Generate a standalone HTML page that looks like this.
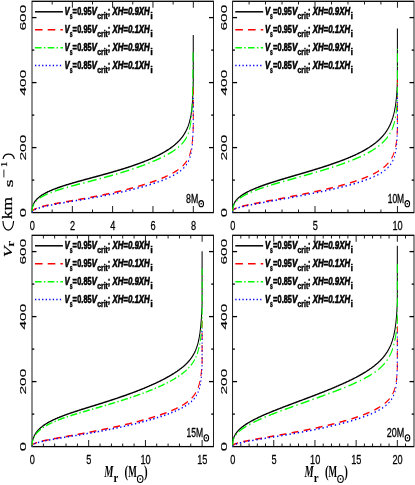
<!DOCTYPE html>
<html><head><meta charset="utf-8"><title>chart</title>
<style>
html,body{margin:0;padding:0;background:#fff;}
body{width:415px;height:485px;overflow:hidden;font-family:"Liberation Sans",sans-serif;}
svg{display:block;will-change:transform;}
text{fill:#000;}
</style></head>
<body>
<svg width="415" height="485" viewBox="0 0 415 485">
<defs><filter id="nf" x="0" y="0" width="415" height="485" filterUnits="userSpaceOnUse"><feOffset dx="0" dy="0"/></filter></defs>
<rect x="0" y="0" width="415" height="485" fill="#fff"/>
<g transform="scale(0.68,1)">
<rect x="47.06" y="1.30" width="266.91" height="211.30" fill="none" stroke="#000" stroke-width="1.3"/>
<line x1="76.71" y1="212.60" x2="76.71" y2="209.40" stroke="#000" stroke-width="1.3" />
<line x1="76.71" y1="1.30" x2="76.71" y2="4.50" stroke="#000" stroke-width="1.3" />
<line x1="106.35" y1="212.60" x2="106.35" y2="206.10" stroke="#000" stroke-width="1.3" />
<line x1="106.35" y1="1.30" x2="106.35" y2="7.80" stroke="#000" stroke-width="1.3" />
<line x1="136.00" y1="212.60" x2="136.00" y2="209.40" stroke="#000" stroke-width="1.3" />
<line x1="136.00" y1="1.30" x2="136.00" y2="4.50" stroke="#000" stroke-width="1.3" />
<line x1="165.65" y1="212.60" x2="165.65" y2="206.10" stroke="#000" stroke-width="1.3" />
<line x1="165.65" y1="1.30" x2="165.65" y2="7.80" stroke="#000" stroke-width="1.3" />
<line x1="195.29" y1="212.60" x2="195.29" y2="209.40" stroke="#000" stroke-width="1.3" />
<line x1="195.29" y1="1.30" x2="195.29" y2="4.50" stroke="#000" stroke-width="1.3" />
<line x1="224.94" y1="212.60" x2="224.94" y2="206.10" stroke="#000" stroke-width="1.3" />
<line x1="224.94" y1="1.30" x2="224.94" y2="7.80" stroke="#000" stroke-width="1.3" />
<line x1="254.59" y1="212.60" x2="254.59" y2="209.40" stroke="#000" stroke-width="1.3" />
<line x1="254.59" y1="1.30" x2="254.59" y2="4.50" stroke="#000" stroke-width="1.3" />
<line x1="284.24" y1="212.60" x2="284.24" y2="206.10" stroke="#000" stroke-width="1.3" />
<line x1="284.24" y1="1.30" x2="284.24" y2="7.80" stroke="#000" stroke-width="1.3" />
<line x1="47.06" y1="180.10" x2="50.44" y2="180.10" stroke="#000" stroke-width="1.3" />
<line x1="313.97" y1="180.10" x2="310.59" y2="180.10" stroke="#000" stroke-width="1.3" />
<line x1="47.06" y1="147.60" x2="53.68" y2="147.60" stroke="#000" stroke-width="1.3" />
<line x1="313.97" y1="147.60" x2="307.35" y2="147.60" stroke="#000" stroke-width="1.3" />
<line x1="47.06" y1="115.10" x2="50.44" y2="115.10" stroke="#000" stroke-width="1.3" />
<line x1="313.97" y1="115.10" x2="310.59" y2="115.10" stroke="#000" stroke-width="1.3" />
<line x1="47.06" y1="82.60" x2="53.68" y2="82.60" stroke="#000" stroke-width="1.3" />
<line x1="313.97" y1="82.60" x2="307.35" y2="82.60" stroke="#000" stroke-width="1.3" />
<line x1="47.06" y1="50.10" x2="50.44" y2="50.10" stroke="#000" stroke-width="1.3" />
<line x1="313.97" y1="50.10" x2="310.59" y2="50.10" stroke="#000" stroke-width="1.3" />
<line x1="47.06" y1="17.60" x2="53.68" y2="17.60" stroke="#000" stroke-width="1.3" />
<line x1="313.97" y1="17.60" x2="307.35" y2="17.60" stroke="#000" stroke-width="1.3" />
<rect x="342.06" y="1.30" width="266.76" height="211.30" fill="none" stroke="#000" stroke-width="1.3"/>
<line x1="366.29" y1="212.60" x2="366.29" y2="209.40" stroke="#000" stroke-width="1.3" />
<line x1="366.29" y1="1.30" x2="366.29" y2="4.50" stroke="#000" stroke-width="1.3" />
<line x1="390.53" y1="212.60" x2="390.53" y2="209.40" stroke="#000" stroke-width="1.3" />
<line x1="390.53" y1="1.30" x2="390.53" y2="4.50" stroke="#000" stroke-width="1.3" />
<line x1="414.76" y1="212.60" x2="414.76" y2="209.40" stroke="#000" stroke-width="1.3" />
<line x1="414.76" y1="1.30" x2="414.76" y2="4.50" stroke="#000" stroke-width="1.3" />
<line x1="439.00" y1="212.60" x2="439.00" y2="209.40" stroke="#000" stroke-width="1.3" />
<line x1="439.00" y1="1.30" x2="439.00" y2="4.50" stroke="#000" stroke-width="1.3" />
<line x1="463.24" y1="212.60" x2="463.24" y2="206.10" stroke="#000" stroke-width="1.3" />
<line x1="463.24" y1="1.30" x2="463.24" y2="7.80" stroke="#000" stroke-width="1.3" />
<line x1="487.47" y1="212.60" x2="487.47" y2="209.40" stroke="#000" stroke-width="1.3" />
<line x1="487.47" y1="1.30" x2="487.47" y2="4.50" stroke="#000" stroke-width="1.3" />
<line x1="511.71" y1="212.60" x2="511.71" y2="209.40" stroke="#000" stroke-width="1.3" />
<line x1="511.71" y1="1.30" x2="511.71" y2="4.50" stroke="#000" stroke-width="1.3" />
<line x1="535.94" y1="212.60" x2="535.94" y2="209.40" stroke="#000" stroke-width="1.3" />
<line x1="535.94" y1="1.30" x2="535.94" y2="4.50" stroke="#000" stroke-width="1.3" />
<line x1="560.18" y1="212.60" x2="560.18" y2="209.40" stroke="#000" stroke-width="1.3" />
<line x1="560.18" y1="1.30" x2="560.18" y2="4.50" stroke="#000" stroke-width="1.3" />
<line x1="584.41" y1="212.60" x2="584.41" y2="206.10" stroke="#000" stroke-width="1.3" />
<line x1="584.41" y1="1.30" x2="584.41" y2="7.80" stroke="#000" stroke-width="1.3" />
<line x1="342.06" y1="180.10" x2="345.44" y2="180.10" stroke="#000" stroke-width="1.3" />
<line x1="608.82" y1="180.10" x2="605.44" y2="180.10" stroke="#000" stroke-width="1.3" />
<line x1="342.06" y1="147.60" x2="348.68" y2="147.60" stroke="#000" stroke-width="1.3" />
<line x1="608.82" y1="147.60" x2="602.21" y2="147.60" stroke="#000" stroke-width="1.3" />
<line x1="342.06" y1="115.10" x2="345.44" y2="115.10" stroke="#000" stroke-width="1.3" />
<line x1="608.82" y1="115.10" x2="605.44" y2="115.10" stroke="#000" stroke-width="1.3" />
<line x1="342.06" y1="82.60" x2="348.68" y2="82.60" stroke="#000" stroke-width="1.3" />
<line x1="608.82" y1="82.60" x2="602.21" y2="82.60" stroke="#000" stroke-width="1.3" />
<line x1="342.06" y1="50.10" x2="345.44" y2="50.10" stroke="#000" stroke-width="1.3" />
<line x1="608.82" y1="50.10" x2="605.44" y2="50.10" stroke="#000" stroke-width="1.3" />
<line x1="342.06" y1="17.60" x2="348.68" y2="17.60" stroke="#000" stroke-width="1.3" />
<line x1="608.82" y1="17.60" x2="602.21" y2="17.60" stroke="#000" stroke-width="1.3" />
<rect x="47.06" y="235.30" width="266.91" height="211.30" fill="none" stroke="#000" stroke-width="1.3"/>
<line x1="63.74" y1="446.60" x2="63.74" y2="443.40" stroke="#000" stroke-width="1.3" />
<line x1="63.74" y1="235.30" x2="63.74" y2="238.50" stroke="#000" stroke-width="1.3" />
<line x1="80.41" y1="446.60" x2="80.41" y2="443.40" stroke="#000" stroke-width="1.3" />
<line x1="80.41" y1="235.30" x2="80.41" y2="238.50" stroke="#000" stroke-width="1.3" />
<line x1="97.09" y1="446.60" x2="97.09" y2="443.40" stroke="#000" stroke-width="1.3" />
<line x1="97.09" y1="235.30" x2="97.09" y2="238.50" stroke="#000" stroke-width="1.3" />
<line x1="113.76" y1="446.60" x2="113.76" y2="443.40" stroke="#000" stroke-width="1.3" />
<line x1="113.76" y1="235.30" x2="113.76" y2="238.50" stroke="#000" stroke-width="1.3" />
<line x1="130.44" y1="446.60" x2="130.44" y2="440.10" stroke="#000" stroke-width="1.3" />
<line x1="130.44" y1="235.30" x2="130.44" y2="241.80" stroke="#000" stroke-width="1.3" />
<line x1="147.12" y1="446.60" x2="147.12" y2="443.40" stroke="#000" stroke-width="1.3" />
<line x1="147.12" y1="235.30" x2="147.12" y2="238.50" stroke="#000" stroke-width="1.3" />
<line x1="163.79" y1="446.60" x2="163.79" y2="443.40" stroke="#000" stroke-width="1.3" />
<line x1="163.79" y1="235.30" x2="163.79" y2="238.50" stroke="#000" stroke-width="1.3" />
<line x1="180.47" y1="446.60" x2="180.47" y2="443.40" stroke="#000" stroke-width="1.3" />
<line x1="180.47" y1="235.30" x2="180.47" y2="238.50" stroke="#000" stroke-width="1.3" />
<line x1="197.15" y1="446.60" x2="197.15" y2="443.40" stroke="#000" stroke-width="1.3" />
<line x1="197.15" y1="235.30" x2="197.15" y2="238.50" stroke="#000" stroke-width="1.3" />
<line x1="213.82" y1="446.60" x2="213.82" y2="440.10" stroke="#000" stroke-width="1.3" />
<line x1="213.82" y1="235.30" x2="213.82" y2="241.80" stroke="#000" stroke-width="1.3" />
<line x1="230.50" y1="446.60" x2="230.50" y2="443.40" stroke="#000" stroke-width="1.3" />
<line x1="230.50" y1="235.30" x2="230.50" y2="238.50" stroke="#000" stroke-width="1.3" />
<line x1="247.18" y1="446.60" x2="247.18" y2="443.40" stroke="#000" stroke-width="1.3" />
<line x1="247.18" y1="235.30" x2="247.18" y2="238.50" stroke="#000" stroke-width="1.3" />
<line x1="263.85" y1="446.60" x2="263.85" y2="443.40" stroke="#000" stroke-width="1.3" />
<line x1="263.85" y1="235.30" x2="263.85" y2="238.50" stroke="#000" stroke-width="1.3" />
<line x1="280.53" y1="446.60" x2="280.53" y2="443.40" stroke="#000" stroke-width="1.3" />
<line x1="280.53" y1="235.30" x2="280.53" y2="238.50" stroke="#000" stroke-width="1.3" />
<line x1="297.21" y1="446.60" x2="297.21" y2="440.10" stroke="#000" stroke-width="1.3" />
<line x1="297.21" y1="235.30" x2="297.21" y2="241.80" stroke="#000" stroke-width="1.3" />
<line x1="47.06" y1="414.10" x2="50.44" y2="414.10" stroke="#000" stroke-width="1.3" />
<line x1="313.97" y1="414.10" x2="310.59" y2="414.10" stroke="#000" stroke-width="1.3" />
<line x1="47.06" y1="381.60" x2="53.68" y2="381.60" stroke="#000" stroke-width="1.3" />
<line x1="313.97" y1="381.60" x2="307.35" y2="381.60" stroke="#000" stroke-width="1.3" />
<line x1="47.06" y1="349.10" x2="50.44" y2="349.10" stroke="#000" stroke-width="1.3" />
<line x1="313.97" y1="349.10" x2="310.59" y2="349.10" stroke="#000" stroke-width="1.3" />
<line x1="47.06" y1="316.60" x2="53.68" y2="316.60" stroke="#000" stroke-width="1.3" />
<line x1="313.97" y1="316.60" x2="307.35" y2="316.60" stroke="#000" stroke-width="1.3" />
<line x1="47.06" y1="284.10" x2="50.44" y2="284.10" stroke="#000" stroke-width="1.3" />
<line x1="313.97" y1="284.10" x2="310.59" y2="284.10" stroke="#000" stroke-width="1.3" />
<line x1="47.06" y1="251.60" x2="53.68" y2="251.60" stroke="#000" stroke-width="1.3" />
<line x1="313.97" y1="251.60" x2="307.35" y2="251.60" stroke="#000" stroke-width="1.3" />
<rect x="342.06" y="235.30" width="266.76" height="211.30" fill="none" stroke="#000" stroke-width="1.3"/>
<line x1="354.17" y1="446.60" x2="354.17" y2="443.40" stroke="#000" stroke-width="1.3" />
<line x1="354.17" y1="235.30" x2="354.17" y2="238.50" stroke="#000" stroke-width="1.3" />
<line x1="366.28" y1="446.60" x2="366.28" y2="443.40" stroke="#000" stroke-width="1.3" />
<line x1="366.28" y1="235.30" x2="366.28" y2="238.50" stroke="#000" stroke-width="1.3" />
<line x1="378.39" y1="446.60" x2="378.39" y2="443.40" stroke="#000" stroke-width="1.3" />
<line x1="378.39" y1="235.30" x2="378.39" y2="238.50" stroke="#000" stroke-width="1.3" />
<line x1="390.50" y1="446.60" x2="390.50" y2="443.40" stroke="#000" stroke-width="1.3" />
<line x1="390.50" y1="235.30" x2="390.50" y2="238.50" stroke="#000" stroke-width="1.3" />
<line x1="402.61" y1="446.60" x2="402.61" y2="440.10" stroke="#000" stroke-width="1.3" />
<line x1="402.61" y1="235.30" x2="402.61" y2="241.80" stroke="#000" stroke-width="1.3" />
<line x1="414.72" y1="446.60" x2="414.72" y2="443.40" stroke="#000" stroke-width="1.3" />
<line x1="414.72" y1="235.30" x2="414.72" y2="238.50" stroke="#000" stroke-width="1.3" />
<line x1="426.83" y1="446.60" x2="426.83" y2="443.40" stroke="#000" stroke-width="1.3" />
<line x1="426.83" y1="235.30" x2="426.83" y2="238.50" stroke="#000" stroke-width="1.3" />
<line x1="438.94" y1="446.60" x2="438.94" y2="443.40" stroke="#000" stroke-width="1.3" />
<line x1="438.94" y1="235.30" x2="438.94" y2="238.50" stroke="#000" stroke-width="1.3" />
<line x1="451.05" y1="446.60" x2="451.05" y2="443.40" stroke="#000" stroke-width="1.3" />
<line x1="451.05" y1="235.30" x2="451.05" y2="238.50" stroke="#000" stroke-width="1.3" />
<line x1="463.16" y1="446.60" x2="463.16" y2="440.10" stroke="#000" stroke-width="1.3" />
<line x1="463.16" y1="235.30" x2="463.16" y2="241.80" stroke="#000" stroke-width="1.3" />
<line x1="475.27" y1="446.60" x2="475.27" y2="443.40" stroke="#000" stroke-width="1.3" />
<line x1="475.27" y1="235.30" x2="475.27" y2="238.50" stroke="#000" stroke-width="1.3" />
<line x1="487.38" y1="446.60" x2="487.38" y2="443.40" stroke="#000" stroke-width="1.3" />
<line x1="487.38" y1="235.30" x2="487.38" y2="238.50" stroke="#000" stroke-width="1.3" />
<line x1="499.49" y1="446.60" x2="499.49" y2="443.40" stroke="#000" stroke-width="1.3" />
<line x1="499.49" y1="235.30" x2="499.49" y2="238.50" stroke="#000" stroke-width="1.3" />
<line x1="511.60" y1="446.60" x2="511.60" y2="443.40" stroke="#000" stroke-width="1.3" />
<line x1="511.60" y1="235.30" x2="511.60" y2="238.50" stroke="#000" stroke-width="1.3" />
<line x1="523.71" y1="446.60" x2="523.71" y2="440.10" stroke="#000" stroke-width="1.3" />
<line x1="523.71" y1="235.30" x2="523.71" y2="241.80" stroke="#000" stroke-width="1.3" />
<line x1="535.82" y1="446.60" x2="535.82" y2="443.40" stroke="#000" stroke-width="1.3" />
<line x1="535.82" y1="235.30" x2="535.82" y2="238.50" stroke="#000" stroke-width="1.3" />
<line x1="547.93" y1="446.60" x2="547.93" y2="443.40" stroke="#000" stroke-width="1.3" />
<line x1="547.93" y1="235.30" x2="547.93" y2="238.50" stroke="#000" stroke-width="1.3" />
<line x1="560.04" y1="446.60" x2="560.04" y2="443.40" stroke="#000" stroke-width="1.3" />
<line x1="560.04" y1="235.30" x2="560.04" y2="238.50" stroke="#000" stroke-width="1.3" />
<line x1="572.15" y1="446.60" x2="572.15" y2="443.40" stroke="#000" stroke-width="1.3" />
<line x1="572.15" y1="235.30" x2="572.15" y2="238.50" stroke="#000" stroke-width="1.3" />
<line x1="584.26" y1="446.60" x2="584.26" y2="440.10" stroke="#000" stroke-width="1.3" />
<line x1="584.26" y1="235.30" x2="584.26" y2="241.80" stroke="#000" stroke-width="1.3" />
<line x1="596.37" y1="446.60" x2="596.37" y2="443.40" stroke="#000" stroke-width="1.3" />
<line x1="596.37" y1="235.30" x2="596.37" y2="238.50" stroke="#000" stroke-width="1.3" />
<line x1="342.06" y1="414.10" x2="345.44" y2="414.10" stroke="#000" stroke-width="1.3" />
<line x1="608.82" y1="414.10" x2="605.44" y2="414.10" stroke="#000" stroke-width="1.3" />
<line x1="342.06" y1="381.60" x2="348.68" y2="381.60" stroke="#000" stroke-width="1.3" />
<line x1="608.82" y1="381.60" x2="602.21" y2="381.60" stroke="#000" stroke-width="1.3" />
<line x1="342.06" y1="349.10" x2="345.44" y2="349.10" stroke="#000" stroke-width="1.3" />
<line x1="608.82" y1="349.10" x2="605.44" y2="349.10" stroke="#000" stroke-width="1.3" />
<line x1="342.06" y1="316.60" x2="348.68" y2="316.60" stroke="#000" stroke-width="1.3" />
<line x1="608.82" y1="316.60" x2="602.21" y2="316.60" stroke="#000" stroke-width="1.3" />
<line x1="342.06" y1="284.10" x2="345.44" y2="284.10" stroke="#000" stroke-width="1.3" />
<line x1="608.82" y1="284.10" x2="605.44" y2="284.10" stroke="#000" stroke-width="1.3" />
<line x1="342.06" y1="251.60" x2="348.68" y2="251.60" stroke="#000" stroke-width="1.3" />
<line x1="608.82" y1="251.60" x2="602.21" y2="251.60" stroke="#000" stroke-width="1.3" />
<path d="M47.1,212.6 L47.1,212.1 L47.2,211.6 L47.2,211.1 L47.3,210.6 L47.3,210.1 L47.4,209.6 L47.4,209.1 L47.5,208.6 L47.5,208.1 L47.6,207.6 L47.8,207.1 L47.9,206.6 L48.1,206.1 L48.3,205.7 L48.6,205.2 L48.8,204.7 L49.1,204.3 L49.4,203.8 L49.7,203.4 L50.1,202.9 L50.4,202.5 L50.8,202.1 L51.2,201.6 L51.6,201.2 L52.1,200.8 L52.5,200.4 L53.0,200.1 L53.5,199.7 L54.0,199.3 L54.5,198.9 L55.0,198.6 L55.6,198.3 L56.1,197.9 L56.7,197.6 L57.3,197.3 L57.8,197.0 L58.4,196.7 L59.0,196.4 L59.6,196.1 L60.2,195.8 L60.8,195.5 L61.4,195.2 L62.0,194.9 L62.7,194.7 L63.3,194.4 L63.9,194.2 L64.6,193.9 L65.2,193.7 L65.8,193.4 L66.5,193.2 L67.1,192.9 L67.8,192.7 L68.5,192.5 L69.1,192.3 L69.8,192.0 L70.4,191.8 L71.1,191.6 L71.8,191.4 L72.4,191.2 L73.1,191.0 L73.8,190.8 L74.5,190.6 L75.1,190.4 L75.8,190.2 L76.5,190.0 L77.2,189.8 L77.9,189.6 L78.5,189.4 L79.2,189.2 L79.9,189.1 L80.6,188.9 L81.3,188.7 L82.0,188.5 L82.7,188.4 L83.4,188.2 L84.0,188.0 L84.7,187.8 L85.4,187.7 L86.1,187.5 L86.8,187.3 L87.5,187.2 L88.2,187.0 L88.9,186.8 L89.6,186.7 L90.3,186.5 L91.0,186.4 L91.7,186.2 L92.4,186.1 L93.1,185.9 L93.8,185.7 L94.5,185.6 L95.2,185.4 L95.9,185.3 L96.6,185.1 L97.3,185.0 L98.0,184.8 L98.7,184.7 L99.4,184.6 L100.1,184.4 L100.8,184.3 L101.5,184.1 L102.2,184.0 L103.0,183.8 L103.7,183.7 L104.4,183.5 L105.1,183.4 L105.8,183.3 L106.5,183.1 L107.2,183.0 L107.9,182.8 L108.6,182.7 L109.3,182.6 L110.0,182.4 L110.7,182.3 L111.4,182.2 L112.1,182.0 L112.9,181.9 L113.6,181.7 L114.3,181.6 L115.0,181.5 L115.7,181.3 L116.4,181.2 L117.1,181.1 L117.8,180.9 L118.5,180.8 L119.2,180.7 L119.9,180.5 L120.7,180.4 L121.4,180.3 L122.1,180.1 L122.8,180.0 L123.5,179.9 L124.2,179.7 L124.9,179.6 L125.6,179.5 L126.3,179.3 L127.1,179.2 L127.8,179.1 L128.5,178.9 L129.2,178.8 L129.9,178.7 L130.6,178.6 L131.3,178.4 L132.0,178.3 L132.7,178.2 L133.4,178.0 L134.2,177.9 L134.9,177.8 L135.6,177.6 L136.3,177.5 L137.0,177.4 L137.7,177.2 L138.4,177.1 L139.1,177.0 L139.8,176.9 L140.6,176.7 L141.3,176.6 L142.0,176.5 L142.7,176.3 L143.4,176.2 L144.1,176.1 L144.8,175.9 L145.5,175.8 L146.2,175.7 L146.9,175.5 L147.7,175.4 L148.4,175.3 L149.1,175.1 L149.8,175.0 L150.5,174.9 L151.2,174.7 L151.9,174.6 L152.6,174.5 L153.3,174.3 L154.0,174.2 L154.8,174.1 L155.5,173.9 L156.2,173.8 L156.9,173.7 L157.6,173.5 L158.3,173.4 L159.0,173.3 L159.7,173.1 L160.4,173.0 L161.1,172.9 L161.8,172.7 L162.6,172.6 L163.3,172.4 L164.0,172.3 L164.7,172.2 L165.4,172.0 L166.1,171.9 L166.8,171.7 L167.5,171.6 L168.2,171.5 L168.9,171.3 L169.6,171.2 L170.3,171.0 L171.0,170.9 L171.7,170.8 L172.4,170.6 L173.2,170.5 L173.9,170.3 L174.6,170.2 L175.3,170.0 L176.0,169.9 L176.7,169.8 L177.4,169.6 L178.1,169.5 L178.8,169.3 L179.5,169.2 L180.2,169.0 L180.9,168.9 L181.6,168.7 L182.3,168.6 L183.0,168.4 L183.7,168.3 L184.4,168.1 L185.1,168.0 L185.8,167.8 L186.5,167.7 L187.2,167.5 L187.9,167.4 L188.6,167.2 L189.3,167.0 L190.0,166.9 L190.7,166.7 L191.4,166.6 L192.1,166.4 L192.8,166.3 L193.5,166.1 L194.2,165.9 L194.9,165.8 L195.6,165.6 L196.3,165.5 L197.0,165.3 L197.7,165.1 L198.4,165.0 L199.1,164.8 L199.8,164.6 L200.5,164.5 L201.2,164.3 L201.9,164.1 L202.6,164.0 L203.2,163.8 L203.9,163.6 L204.6,163.4 L205.3,163.3 L206.0,163.1 L206.7,162.9 L207.4,162.7 L208.1,162.6 L208.8,162.4 L209.5,162.2 L210.1,162.0 L210.8,161.9 L211.5,161.7 L212.2,161.5 L212.9,161.3 L213.6,161.1 L214.3,160.9 L214.9,160.7 L215.6,160.6 L216.3,160.4 L217.0,160.2 L217.7,160.0 L218.3,159.8 L219.0,159.6 L219.7,159.4 L220.4,159.2 L221.1,159.0 L221.7,158.8 L222.4,158.6 L223.1,158.4 L223.8,158.2 L224.4,158.0 L225.1,157.8 L225.8,157.6 L226.4,157.4 L227.1,157.2 L227.8,157.0 L228.4,156.7 L229.1,156.5 L229.8,156.3 L230.4,156.1 L231.1,155.9 L231.7,155.6 L232.4,155.4 L233.1,155.2 L233.7,155.0 L234.4,154.7 L235.0,154.5 L235.7,154.3 L236.3,154.0 L237.0,153.8 L237.6,153.6 L238.3,153.3 L238.9,153.1 L239.6,152.8 L240.2,152.6 L240.8,152.3 L241.5,152.1 L242.1,151.8 L242.7,151.6 L243.4,151.3 L244.0,151.1 L244.6,150.8 L245.3,150.5 L245.9,150.3 L246.5,150.0 L247.1,149.7 L247.7,149.5 L248.4,149.2 L249.0,148.9 L249.6,148.6 L250.2,148.3 L250.8,148.0 L251.4,147.8 L252.0,147.5 L252.6,147.2 L253.2,146.9 L253.7,146.6 L254.3,146.3 L254.9,145.9 L255.5,145.6 L256.1,145.3 L256.6,145.0 L257.2,144.7 L257.7,144.4 L258.3,144.0 L258.8,143.7 L259.4,143.4 L259.9,143.0 L260.5,142.7 L261.0,142.3 L261.5,142.0 L262.1,141.6 L262.6,141.3 L263.1,140.9 L263.6,140.5 L264.1,140.2 L264.6,139.8 L265.1,139.4 L265.5,139.0 L266.0,138.7 L266.5,138.3 L266.9,137.9 L267.4,137.5 L267.9,137.1 L268.3,136.7 L268.7,136.3 L269.2,135.9 L269.6,135.5 L270.0,135.1 L270.4,134.6 L270.8,134.2 L271.2,133.8 L271.6,133.4 L271.9,132.9 L272.3,132.5 L272.7,132.1 L273.0,131.6 L273.4,131.2 L273.7,130.7 L274.0,130.3 L274.3,129.8 L274.7,129.4 L275.0,128.9 L275.3,128.5 L275.5,128.0 L275.8,127.5 L276.1,127.1 L276.4,126.6 L276.6,126.1 L276.9,125.7 L277.1,125.2 L277.4,124.7 L277.6,124.3 L277.8,123.8 L278.0,123.3 L278.2,122.8 L278.5,122.3 L278.7,121.9 L278.8,121.4 L279.0,120.9 L279.2,120.4 L279.4,119.9 L279.6,119.4 L279.7,118.9 L279.9,118.5 L280.0,118.0 L280.2,117.5 L280.3,117.0 L280.5,116.5 L280.6,116.0 L280.7,115.5 L280.9,115.0 L281.0,114.5 L281.1,114.0 L281.2,113.5 L281.3,113.0 L281.4,112.5 L281.5,112.0 L281.6,111.5 L281.7,111.0 L281.8,110.6 L281.9,110.1 L282.0,109.6 L282.1,109.1 L282.2,108.6 L282.3,108.1 L282.3,107.6 L282.4,107.1 L282.5,106.6 L282.6,106.1 L282.6,105.6 L282.7,105.1 L282.7,104.6 L282.8,104.1 L282.9,103.6 L282.9,103.1 L283.0,102.6 L283.0,102.1 L283.1,101.6 L283.1,101.1 L283.2,100.6 L283.2,100.1 L283.3,99.6 L283.3,99.1 L283.3,98.6 L283.4,98.1 L283.4,97.6 L283.5,97.1 L283.5,96.6 L283.5,96.1 L283.6,95.6 L283.6,95.1 L283.6,94.6 L283.7,94.1 L283.7,93.6 L283.7,93.1 L283.7,92.6 L283.8,92.1 L283.8,91.6 L283.8,91.1 L283.8,90.6 L283.9,90.1 L283.9,89.6 L283.9,89.1 L283.9,88.6 L284.0,88.1 L284.0,87.6 L284.0,87.1 L284.0,86.6 L284.0,86.1 L284.0,85.6 L284.1,85.1 L284.1,84.6 L284.1,84.1 L284.1,83.6 L284.1,83.1 L284.1,82.6 L284.2,82.1 L284.2,81.6 L284.2,81.1 L284.2,80.6 L284.2,80.1 L284.2,79.6 L284.2,79.1 L284.2,78.6 L284.2,78.1 L284.2,77.6 L284.2,77.1 L284.2,76.6 L284.2,76.1 L284.2,75.6 L284.2,75.1 L284.2,74.6 L284.2,74.1 L284.2,73.6 L284.2,73.1 L284.2,72.6 L284.2,72.1 L284.2,71.6 L284.2,71.1 L284.2,70.6 L284.2,70.1 L284.2,69.6 L284.2,69.0 L284.2,68.5 L284.2,68.0 L284.2,67.5 L284.2,67.0 L284.2,66.5 L284.2,66.0 L284.2,65.5 L284.2,65.0 L284.2,64.5 L284.2,64.0 L284.2,63.5 L284.2,63.0 L284.2,62.5 L284.2,62.0 L284.2,61.5 L284.2,61.0 L284.2,60.5 L284.2,60.0 L284.2,59.5 L284.2,59.0 L284.2,58.5 L284.2,58.0 L284.2,57.5 L284.2,57.0 L284.2,56.5 L284.2,56.0 L284.2,55.5 L284.2,55.0 L284.2,54.5 L284.2,54.0 L284.2,53.5 L284.2,53.0 L284.2,52.5 L284.2,52.0 L284.2,51.5 L284.2,51.0 L284.2,50.5 L284.2,50.0 L284.2,49.5 L284.2,49.0 L284.2,48.5 L284.2,48.0 L284.2,47.5 L284.2,47.0 L284.2,46.5 L284.2,46.0 L284.2,45.5 L284.2,45.0 L284.2,44.5 L284.2,44.0 L284.2,43.5 L284.2,43.0 L284.2,42.5 L284.2,42.0 L284.2,41.5 L284.2,41.0 L284.2,40.5 L284.2,40.0 L284.2,39.5 L284.2,39.0 L284.2,38.5 L284.2,38.0 L284.2,37.5 L284.2,37.0 L284.2,36.5 L284.2,36.0 L284.2,35.5 L284.2,35.0" fill="none" stroke="#000" stroke-width="1.5" stroke-linejoin="round"/>
<path d="M47.1,212.6 L47.2,212.1 L47.4,211.6 L47.7,211.1 L48.2,210.7 L48.7,210.3 L49.3,209.9 L49.9,209.6 L50.6,209.3 L51.3,209.1 L52.0,208.8 L52.7,208.6 L53.4,208.4 L54.1,208.2M61.7,206.6 L62.4,206.4 L63.2,206.3 L64.0,206.2 L64.7,206.0 L65.5,205.9 L66.2,205.8 L67.0,205.7 L67.8,205.5 L68.5,205.4 L69.3,205.3 L70.0,205.2 L70.8,205.1 L71.6,205.0M79.3,203.9 L80.1,203.8 L80.9,203.7 L81.6,203.6 L82.4,203.5 L83.2,203.4 L84.0,203.3 L84.7,203.2 L85.5,203.1 L86.3,203.0 L87.0,202.9 L87.8,202.9 L88.6,202.8 L89.3,202.7M97.1,201.7 L97.9,201.6 L98.7,201.5 L99.5,201.4 L100.2,201.4 L101.0,201.3 L101.8,201.2 L102.5,201.1 L103.3,201.0 L104.1,200.9 L104.8,200.8 L105.6,200.7 L106.4,200.6 L107.1,200.5M115.0,199.6 L115.7,199.5 L116.5,199.4 L117.3,199.3 L118.0,199.2 L118.8,199.1 L119.6,199.0 L120.3,198.9 L121.1,198.8 L121.9,198.7 L122.6,198.7 L123.4,198.6 L124.2,198.5 L124.9,198.4M132.8,197.4 L133.5,197.3 L134.3,197.2 L135.1,197.1 L135.8,197.0 L136.6,196.9 L137.4,196.8 L138.1,196.7 L138.9,196.6 L139.7,196.5 L140.4,196.4 L141.2,196.3 L142.0,196.2 L142.7,196.1M150.5,195.0 L151.3,194.9 L152.0,194.8 L152.8,194.7 L153.6,194.6 L154.3,194.5 L155.1,194.4 L155.9,194.2 L156.6,194.1 L157.4,194.0 L158.1,193.9 L158.9,193.8 L159.7,193.7 L160.4,193.6M168.2,192.4 L168.9,192.3 L169.7,192.2 L170.5,192.0 L171.2,191.9 L172.0,191.8 L172.7,191.7 L173.5,191.6 L174.3,191.4 L175.0,191.3 L175.8,191.2 L176.5,191.1 L177.3,191.0 L178.1,190.8M185.8,189.5 L186.5,189.4 L187.3,189.3 L188.0,189.1 L188.8,189.0 L189.6,188.9 L190.3,188.7 L191.1,188.6 L191.8,188.5 L192.6,188.3 L193.3,188.2 L194.1,188.1 L194.8,187.9 L195.6,187.8M203.2,186.3 L204.0,186.2 L204.7,186.0 L205.5,185.9 L206.2,185.7 L207.0,185.6 L207.7,185.4 L208.5,185.3 L209.2,185.1 L210.0,185.0 L210.7,184.8 L211.5,184.7 L212.2,184.5 L212.9,184.3M220.5,182.7 L221.2,182.5 L222.0,182.3 L222.7,182.2 L223.5,182.0 L224.2,181.8 L224.9,181.6 L225.7,181.5 L226.4,181.3 L227.1,181.1 L227.9,180.9 L228.6,180.7 L229.3,180.6 L230.1,180.4M237.5,178.4 L238.2,178.2 L238.9,178.0 L239.6,177.8 L240.3,177.6 L241.1,177.4 L241.8,177.2 L242.5,177.0 L243.2,176.7 L243.9,176.5 L244.6,176.3 L245.3,176.1 L246.0,175.9 L246.7,175.6M253.8,173.2 L254.5,172.9 L255.2,172.6 L255.8,172.4 L256.5,172.1 L257.2,171.8 L257.8,171.5 L258.5,171.3 L259.2,171.0 L259.8,170.7 L260.5,170.4 L261.1,170.1 L261.7,169.8 L262.4,169.5M268.5,166.0 L269.0,165.6 L269.6,165.3 L270.1,164.9 L270.6,164.5 L271.1,164.1 L271.6,163.7 L272.1,163.3 L272.6,162.8 L273.1,162.4 L273.5,162.0 L274.0,161.6 L274.4,161.1 L274.8,160.7M278.4,155.8 L278.6,155.3 L278.9,154.8 L279.2,154.3 L279.4,153.8 L279.6,153.3 L279.8,152.8 L280.1,152.3 L280.3,151.8 L280.4,151.3 L280.6,150.8 L280.8,150.2 L281.0,149.7 L281.1,149.2M282.4,143.9 L282.5,143.3 L282.6,142.8 L282.7,142.3 L282.8,141.8 L282.9,141.2 L282.9,140.7 L283.0,140.2 L283.1,139.7 L283.2,139.1 L283.2,138.6 L283.3,138.1 L283.3,137.5 L283.4,137.0M283.9,131.6 L283.9,131.1 L284.0,130.6 L284.0,130.0 L284.0,129.5 L284.1,129.0 L284.1,128.4 L284.1,127.9 L284.1,127.4 L284.2,126.8 L284.2,126.3 L284.2,125.8 L284.2,125.3 L284.2,124.7M284.2,119.3 L284.2,118.8 L284.2,118.3 L284.2,117.7 L284.2,117.2 L284.2,116.7 L284.2,116.1 L284.2,115.6 L284.2,115.1 L284.2,114.5 L284.2,114.0 L284.2,113.5 L284.2,113.0 L284.2,112.4M284.2,107.0 L284.2,106.5 L284.2,106.0 L284.2,105.4 L284.2,104.9 L284.2,104.4 L284.2,103.8 L284.2,103.3 L284.2,102.8 L284.2,102.2 L284.2,101.7 L284.2,101.2 L284.2,100.7 L284.2,100.1M284.2,94.7 L284.2,94.2 L284.2,93.7 L284.2,93.1 L284.2,92.6 L284.2,92.1 L284.2,91.5 L284.2,91.0 L284.2,90.5 L284.2,89.9 L284.2,89.4 L284.2,88.9 L284.2,88.4 L284.2,87.8" fill="none" stroke="#ff0000" stroke-width="1.5" stroke-linejoin="round"/>
<path d="M47.1,212.6 L47.1,212.1 L47.2,211.6 L47.2,211.1 L47.3,210.6 L47.4,210.1 L47.4,209.5 L47.5,209.0 L47.5,208.5 L47.7,208.0 L47.9,207.5 L48.1,207.0 L48.3,206.5 L48.5,206.1 L48.8,205.6 L49.1,205.1 L49.5,204.7 L49.8,204.2 L50.2,203.8M53.1,201.2 L53.8,200.7 L54.5,200.3M58.2,198.2 L58.8,197.9 L59.4,197.7 L60.0,197.4 L60.7,197.1 L61.3,196.8 L62.0,196.6 L62.6,196.3 L63.3,196.1 L63.9,195.8 L64.6,195.6 L65.3,195.4 L65.9,195.1 L66.6,194.9 L67.3,194.7 L68.0,194.5 L68.6,194.3 L69.3,194.0 L70.0,193.8M74.4,192.6 L75.3,192.4 L76.3,192.1M80.7,191.0 L81.4,190.9 L82.1,190.7 L82.9,190.5 L83.6,190.4 L84.3,190.2 L85.0,190.1 L85.7,189.9 L86.4,189.8 L87.2,189.6 L87.9,189.4 L88.6,189.3 L89.3,189.1 L90.0,189.0 L90.7,188.9 L91.5,188.7 L92.2,188.6 L92.9,188.4 L93.6,188.3M98.2,187.4 L99.1,187.2 L100.1,187.0M104.7,186.2 L105.4,186.0 L106.1,185.9 L106.9,185.8 L107.6,185.6 L108.3,185.5 L109.0,185.4 L109.8,185.3 L110.5,185.1 L111.2,185.0 L111.9,184.9 L112.7,184.7 L113.4,184.6 L114.1,184.5 L114.8,184.3 L115.6,184.2 L116.3,184.1 L117.0,184.0 L117.8,183.8M122.3,183.0 L123.3,182.9 L124.3,182.7M128.9,181.9 L129.6,181.8 L130.3,181.6 L131.0,181.5 L131.8,181.4 L132.5,181.2 L133.2,181.1 L134.0,181.0 L134.7,180.9 L135.4,180.7 L136.1,180.6 L136.9,180.5 L137.6,180.3 L138.3,180.2 L139.1,180.1 L139.8,180.0 L140.5,179.8 L141.2,179.7 L142.0,179.6M146.5,178.7 L147.5,178.6 L148.5,178.4M153.0,177.6 L153.8,177.4 L154.5,177.3 L155.2,177.1 L155.9,177.0 L156.7,176.9 L157.4,176.7 L158.1,176.6 L158.8,176.5 L159.6,176.3 L160.3,176.2 L161.0,176.1 L161.7,175.9 L162.5,175.8 L163.2,175.6 L163.9,175.5 L164.6,175.4 L165.4,175.2 L166.1,175.1M170.6,174.2 L171.6,174.0 L172.6,173.8M177.1,172.9 L177.8,172.7 L178.5,172.6 L179.2,172.4 L180.0,172.3 L180.7,172.1 L181.4,172.0 L182.1,171.8 L182.8,171.7 L183.5,171.5 L184.3,171.4 L185.0,171.2 L185.7,171.1 L186.4,170.9 L187.1,170.8 L187.8,170.6 L188.6,170.5 L189.3,170.3 L190.0,170.1M194.5,169.1 L195.4,168.9 L196.4,168.7M200.9,167.7 L201.6,167.5 L202.3,167.3 L203.0,167.2 L203.7,167.0 L204.4,166.8 L205.1,166.6 L205.8,166.5 L206.5,166.3 L207.2,166.1 L207.9,165.9 L208.7,165.8 L209.4,165.6 L210.1,165.4 L210.8,165.2 L211.5,165.1 L212.2,164.9 L212.9,164.7 L213.6,164.5M218.0,163.4 L218.9,163.1 L219.9,162.8M224.2,161.6 L224.9,161.4 L225.6,161.2 L226.3,161.0 L227.0,160.8 L227.7,160.6 L228.4,160.4 L229.1,160.2 L229.8,160.0 L230.5,159.8 L231.1,159.6 L231.8,159.4 L232.5,159.2 L233.2,159.0 L233.9,158.8 L234.6,158.5 L235.2,158.3 L235.9,158.1 L236.6,157.9M240.8,156.5 L241.7,156.2 L242.7,155.8M246.8,154.3 L247.4,154.1 L248.1,153.8 L248.8,153.6 L249.4,153.3 L250.1,153.0 L250.7,152.8 L251.3,152.5 L252.0,152.3 L252.6,152.0 L253.3,151.7 L253.9,151.4 L254.5,151.2 L255.1,150.9 L255.8,150.6 L256.4,150.3 L257.0,150.0 L257.6,149.7 L258.2,149.4M261.9,147.4 L262.7,147.0 L263.5,146.5M266.9,144.3 L267.4,143.9 L267.9,143.6 L268.4,143.2 L268.9,142.8 L269.4,142.4 L269.9,142.0 L270.3,141.6 L270.8,141.2 L271.2,140.8 L271.6,140.4 L272.1,139.9 L272.5,139.5 L272.9,139.1 L273.2,138.6 L273.6,138.2 L274.0,137.7 L274.3,137.3 L274.7,136.8M276.6,133.9 L276.9,133.2 L277.2,132.6M278.6,129.5 L278.8,129.0 L278.9,128.5 L279.1,128.0 L279.3,127.5 L279.4,127.0 L279.6,126.5 L279.7,126.0 L279.8,125.5 L280.0,125.0 L280.1,124.5 L280.2,124.0 L280.3,123.5 L280.5,123.0 L280.6,122.5 L280.7,122.0 L280.8,121.5 L280.9,121.0 L281.0,120.5M281.5,117.3 L281.6,116.6 L281.6,115.9M282.0,112.7 L282.1,112.2 L282.1,111.7 L282.2,111.2 L282.2,110.7 L282.3,110.1 L282.3,109.6 L282.3,109.1 L282.4,108.6 L282.4,108.1 L282.5,107.6 L282.5,107.1 L282.5,106.6 L282.6,106.1 L282.6,105.6 L282.6,105.0 L282.7,104.5 L282.7,104.0 L282.7,103.5M282.9,100.3 L282.9,99.6 L283.0,98.9M283.1,95.7 L283.1,95.2 L283.1,94.7 L283.2,94.2 L283.2,93.7 L283.2,93.2 L283.2,92.6 L283.2,92.1 L283.2,91.6 L283.3,91.1 L283.3,90.6 L283.3,90.1 L283.3,89.6 L283.3,89.1 L283.3,88.6 L283.4,88.0 L283.4,87.5 L283.4,87.0 L283.4,86.5M283.5,83.3 L283.5,82.6 L283.5,81.9M283.6,78.7 L283.6,78.2 L283.6,77.7 L283.6,77.2 L283.6,76.7 L283.6,76.2 L283.6,75.7 L283.6,75.1 L283.6,74.6 L283.6,74.1 L283.6,73.6 L283.7,73.1 L283.7,72.6 L283.7,72.1 L283.7,71.6 L283.7,71.1 L283.7,70.5 L283.7,70.0 L283.7,69.5M283.7,66.3 L283.8,65.6 L283.8,64.9M283.8,61.7 L283.8,61.2 L283.8,60.7 L283.8,60.2 L283.8,59.7 L283.8,59.2 L283.8,58.7 L283.8,58.1 L283.8,57.6 L283.8,57.1 L283.8,56.6 L283.8,56.1 L283.8,55.6 L283.9,55.1 L283.9,54.6 L283.9,54.1 L283.9,53.5 L283.9,53.0 L283.9,52.5" fill="none" stroke="#00ff00" stroke-width="1.5" stroke-linejoin="round"/>
<path d="M47.1,212.6 L47.4,211.9 L47.9,211.3M51.1,209.7 L52.1,209.4 L53.0,209.1M56.9,208.1 L57.9,207.9 L58.8,207.7M62.8,207.0 L63.8,206.8 L64.8,206.6M68.8,206.0 L69.8,205.8 L70.8,205.7M74.9,205.1 L75.9,205.0 L76.9,204.9M80.9,204.3 L81.9,204.2 L83.0,204.1M87.0,203.6 L88.0,203.5 L89.0,203.3M93.1,202.9 L94.1,202.7 L95.1,202.6M99.2,202.1 L100.2,202.0 L101.2,201.9M105.3,201.4 L106.3,201.3 L107.3,201.2M111.4,200.7 L112.4,200.6 L113.4,200.5M117.4,200.0 L118.5,199.9 L119.5,199.8M123.5,199.3 L124.5,199.2 L125.6,199.1M129.6,198.6 L130.6,198.5 L131.6,198.4M135.7,197.9 L136.7,197.7 L137.7,197.6M141.8,197.1 L142.8,197.0 L143.8,196.9M147.8,196.3 L148.9,196.2 L149.9,196.1M153.9,195.6 L154.9,195.4 L155.9,195.3M160.0,194.7 L161.0,194.6 L162.0,194.5M166.0,193.9 L167.0,193.7 L168.0,193.6M172.1,193.0 L173.1,192.9 L174.1,192.7M178.1,192.1 L179.1,192.0 L180.1,191.8M184.1,191.2 L185.1,191.0 L186.1,190.9M190.1,190.2 L191.1,190.1 L192.1,189.9M196.1,189.2 L197.1,189.0 L198.1,188.9M202.1,188.2 L203.1,188.0 L204.1,187.8M208.1,187.1 L209.1,186.9 L210.1,186.7M214.0,185.9 L215.0,185.7 L216.0,185.5M219.9,184.7 L220.9,184.5 L221.9,184.3M225.8,183.5 L226.8,183.2 L227.8,183.0M231.7,182.1 L232.6,181.9 L233.6,181.6M237.5,180.7 L238.4,180.4 L239.4,180.2M243.2,179.1 L244.2,178.9 L245.1,178.6M248.9,177.4 L249.8,177.1 L250.7,176.8M254.4,175.6 L255.3,175.3 L256.2,174.9M259.8,173.5 L260.7,173.1 L261.5,172.8M264.9,171.1 L265.7,170.7 L266.5,170.3M269.6,168.4 L270.3,167.9 L271.0,167.4M273.6,165.2 L274.2,164.7 L274.8,164.1M276.8,161.7 L277.3,161.0 L277.7,160.4M279.2,157.8 L279.5,157.1 L279.8,156.4M280.8,153.7 L281.0,153.0 L281.2,152.4M281.9,149.6 L282.0,148.9 L282.2,148.2M282.7,145.4 L282.8,144.7 L282.9,144.0M283.2,141.2 L283.3,140.5 L283.3,139.8M283.6,137.1 L283.6,136.4 L283.7,135.7M283.9,132.9 L283.9,132.2 L283.9,131.5M284.1,128.7 L284.1,128.0 L284.1,127.3M284.2,124.5 L284.2,123.8 L284.2,123.1M284.2,120.3 L284.2,119.6 L284.2,118.9M284.2,116.1 L284.2,115.4 L284.2,114.7M284.2,111.9 L284.2,111.2 L284.2,110.5M284.2,107.7 L284.2,107.0 L284.2,106.3M284.2,103.5 L284.2,102.8 L284.2,102.1M284.2,99.3 L284.2,98.6 L284.2,97.9" fill="none" stroke="#0000ff" stroke-width="1.5" stroke-linejoin="round"/>
<path d="M342.1,212.6 L342.1,212.1 L342.2,211.6 L342.2,211.1 L342.2,210.6 L342.3,210.1 L342.3,209.6 L342.4,209.1 L342.4,208.6 L342.5,208.1 L342.5,207.6 L342.6,207.1 L342.8,206.6 L342.9,206.1 L343.1,205.7 L343.4,205.2 L343.6,204.7 L343.9,204.2 L344.1,203.8 L344.5,203.3 L344.8,202.9 L345.1,202.4 L345.5,202.0 L345.9,201.6 L346.3,201.2 L346.8,200.8 L347.2,200.4 L347.7,200.0 L348.2,199.6 L348.7,199.2 L349.2,198.9 L349.7,198.5 L350.2,198.2 L350.8,197.8 L351.3,197.5 L351.9,197.2 L352.4,196.9 L353.0,196.6 L353.6,196.3 L354.2,196.0 L354.8,195.7 L355.4,195.4 L356.0,195.1 L356.6,194.8 L357.2,194.5 L357.8,194.3 L358.5,194.0 L359.1,193.7 L359.7,193.5 L360.4,193.2 L361.0,193.0 L361.7,192.8 L362.3,192.5 L362.9,192.3 L363.6,192.0 L364.3,191.8 L364.9,191.6 L365.6,191.4 L366.2,191.1 L366.9,190.9 L367.6,190.7 L368.2,190.5 L368.9,190.3 L369.6,190.1 L370.2,189.9 L370.9,189.7 L371.6,189.5 L372.2,189.3 L372.9,189.1 L373.6,188.9 L374.3,188.7 L375.0,188.5 L375.6,188.3 L376.3,188.1 L377.0,187.9 L377.7,187.7 L378.4,187.6 L379.1,187.4 L379.7,187.2 L380.4,187.0 L381.1,186.8 L381.8,186.7 L382.5,186.5 L383.2,186.3 L383.9,186.1 L384.6,186.0 L385.3,185.8 L385.9,185.6 L386.6,185.5 L387.3,185.3 L388.0,185.1 L388.7,185.0 L389.4,184.8 L390.1,184.6 L390.8,184.5 L391.5,184.3 L392.2,184.1 L392.9,184.0 L393.6,183.8 L394.3,183.7 L395.0,183.5 L395.7,183.3 L396.4,183.2 L397.1,183.0 L397.8,182.9 L398.5,182.7 L399.2,182.6 L399.9,182.4 L400.6,182.3 L401.3,182.1 L402.0,182.0 L402.7,181.8 L403.4,181.7 L404.1,181.5 L404.8,181.4 L405.5,181.2 L406.2,181.1 L406.9,180.9 L407.6,180.8 L408.3,180.6 L409.0,180.5 L409.7,180.3 L410.4,180.2 L411.1,180.0 L411.8,179.9 L412.5,179.7 L413.2,179.6 L413.9,179.4 L414.6,179.3 L415.3,179.2 L416.0,179.0 L416.8,178.9 L417.5,178.7 L418.2,178.6 L418.9,178.4 L419.6,178.3 L420.3,178.2 L421.0,178.0 L421.7,177.9 L422.4,177.7 L423.1,177.6 L423.8,177.4 L424.5,177.3 L425.2,177.2 L425.9,177.0 L426.6,176.9 L427.3,176.7 L428.0,176.6 L428.7,176.5 L429.5,176.3 L430.2,176.2 L430.9,176.0 L431.6,175.9 L432.3,175.8 L433.0,175.6 L433.7,175.5 L434.4,175.3 L435.1,175.2 L435.8,175.1 L436.5,174.9 L437.2,174.8 L437.9,174.6 L438.6,174.5 L439.3,174.4 L440.0,174.2 L440.8,174.1 L441.5,173.9 L442.2,173.8 L442.9,173.6 L443.6,173.5 L444.3,173.4 L445.0,173.2 L445.7,173.1 L446.4,172.9 L447.1,172.8 L447.8,172.7 L448.5,172.5 L449.2,172.4 L449.9,172.2 L450.6,172.1 L451.3,171.9 L452.0,171.8 L452.7,171.7 L453.5,171.5 L454.2,171.4 L454.9,171.2 L455.6,171.1 L456.3,170.9 L457.0,170.8 L457.7,170.7 L458.4,170.5 L459.1,170.4 L459.8,170.2 L460.5,170.1 L461.2,169.9 L461.9,169.8 L462.6,169.6 L463.3,169.5 L464.0,169.3 L464.7,169.2 L465.4,169.1 L466.1,168.9 L466.8,168.8 L467.5,168.6 L468.2,168.5 L468.9,168.3 L469.6,168.2 L470.3,168.0 L471.0,167.9 L471.7,167.7 L472.4,167.6 L473.1,167.4 L473.8,167.3 L474.5,167.1 L475.3,167.0 L476.0,166.8 L476.7,166.6 L477.4,166.5 L478.1,166.3 L478.8,166.2 L479.5,166.0 L480.1,165.9 L480.8,165.7 L481.5,165.6 L482.2,165.4 L482.9,165.2 L483.6,165.1 L484.3,164.9 L485.0,164.8 L485.7,164.6 L486.4,164.5 L487.1,164.3 L487.8,164.1 L488.5,164.0 L489.2,163.8 L489.9,163.6 L490.6,163.5 L491.3,163.3 L492.0,163.1 L492.7,163.0 L493.4,162.8 L494.1,162.6 L494.8,162.5 L495.5,162.3 L496.2,162.1 L496.8,162.0 L497.5,161.8 L498.2,161.6 L498.9,161.4 L499.6,161.3 L500.3,161.1 L501.0,160.9 L501.7,160.7 L502.4,160.6 L503.0,160.4 L503.7,160.2 L504.4,160.0 L505.1,159.9 L505.8,159.7 L506.5,159.5 L507.2,159.3 L507.8,159.1 L508.5,158.9 L509.2,158.7 L509.9,158.6 L510.6,158.4 L511.3,158.2 L511.9,158.0 L512.6,157.8 L513.3,157.6 L514.0,157.4 L514.7,157.2 L515.3,157.0 L516.0,156.8 L516.7,156.6 L517.4,156.4 L518.0,156.2 L518.7,156.0 L519.4,155.8 L520.0,155.6 L520.7,155.4 L521.4,155.2 L522.1,155.0 L522.7,154.8 L523.4,154.6 L524.0,154.4 L524.7,154.1 L525.4,153.9 L526.0,153.7 L526.7,153.5 L527.4,153.3 L528.0,153.0 L528.7,152.8 L529.3,152.6 L530.0,152.4 L530.6,152.1 L531.3,151.9 L531.9,151.7 L532.6,151.4 L533.2,151.2 L533.9,151.0 L534.5,150.7 L535.2,150.5 L535.8,150.2 L536.5,150.0 L537.1,149.7 L537.7,149.5 L538.4,149.2 L539.0,149.0 L539.6,148.7 L540.3,148.5 L540.9,148.2 L541.5,147.9 L542.1,147.7 L542.8,147.4 L543.4,147.1 L544.0,146.9 L544.6,146.6 L545.2,146.3 L545.8,146.0 L546.4,145.7 L547.0,145.5 L547.6,145.2 L548.2,144.9 L548.8,144.6 L549.4,144.3 L550.0,144.0 L550.6,143.7 L551.2,143.4 L551.8,143.1 L552.3,142.8 L552.9,142.4 L553.5,142.1 L554.1,141.8 L554.6,141.5 L555.2,141.2 L555.7,140.8 L556.3,140.5 L556.8,140.2 L557.4,139.8 L557.9,139.5 L558.4,139.1 L559.0,138.8 L559.5,138.4 L560.0,138.1 L560.5,137.7 L561.0,137.4 L561.5,137.0 L562.0,136.6 L562.5,136.3 L563.0,135.9 L563.5,135.5 L564.0,135.1 L564.4,134.7 L564.9,134.3 L565.3,134.0 L565.8,133.6 L566.2,133.2 L566.7,132.8 L567.1,132.4 L567.5,131.9 L568.0,131.5 L568.4,131.1 L568.8,130.7 L569.2,130.3 L569.6,129.9 L570.0,129.4 L570.3,129.0 L570.7,128.6 L571.1,128.1 L571.4,127.7 L571.8,127.3 L572.1,126.8 L572.5,126.4 L572.8,125.9 L573.1,125.5 L573.4,125.0 L573.8,124.6 L574.1,124.1 L574.4,123.7 L574.6,123.2 L574.9,122.7 L575.2,122.3 L575.5,121.8 L575.7,121.3 L576.0,120.9 L576.3,120.4 L576.5,119.9 L576.7,119.5 L577.0,119.0 L577.2,118.5 L577.4,118.0 L577.7,117.6 L577.9,117.1 L578.1,116.6 L578.3,116.1 L578.5,115.6 L578.7,115.2 L578.9,114.7 L579.0,114.2 L579.2,113.7 L579.4,113.2 L579.5,112.7 L579.7,112.2 L579.9,111.8 L580.0,111.3 L580.2,110.8 L580.3,110.3 L580.5,109.8 L580.6,109.3 L580.7,108.8 L580.9,108.3 L581.0,107.8 L581.1,107.3 L581.2,106.8 L581.4,106.3 L581.5,105.9 L581.6,105.4 L581.7,104.9 L581.8,104.4 L581.9,103.9 L582.0,103.4 L582.1,102.9 L582.2,102.4 L582.3,101.9 L582.4,101.4 L582.4,100.9 L582.5,100.4 L582.6,99.9 L582.7,99.4 L582.8,98.9 L582.8,98.4 L582.9,97.9 L583.0,97.4 L583.0,96.9 L583.1,96.4 L583.2,95.9 L583.2,95.4 L583.3,94.9 L583.3,94.4 L583.4,93.9 L583.5,93.4 L583.5,92.9 L583.6,92.4 L583.6,91.9 L583.7,91.4 L583.7,90.9 L583.8,90.4 L583.8,89.9 L583.9,89.4 L583.9,88.9 L583.9,88.4 L584.0,87.9 L584.0,87.4 L584.1,86.9 L584.1,86.4 L584.1,85.9 L584.2,85.4 L584.2,84.9 L584.2,84.4 L584.3,83.9 L584.3,83.4 L584.3,82.9 L584.4,82.4 L584.4,81.9 L584.4,81.4 L584.4,80.9 L584.4,80.4 L584.4,79.9 L584.4,79.4 L584.4,78.9 L584.4,78.4 L584.4,77.9 L584.4,77.4 L584.4,76.9 L584.4,76.4 L584.4,75.9 L584.4,75.4 L584.4,74.9 L584.4,74.4 L584.4,73.9 L584.4,73.4 L584.4,72.9 L584.4,72.4 L584.4,71.9 L584.4,71.4 L584.4,70.9 L584.4,70.4 L584.4,69.9 L584.4,69.4 L584.4,68.9 L584.4,68.4 L584.4,67.9 L584.4,67.4 L584.4,66.9 L584.4,66.4 L584.4,65.9 L584.4,65.4 L584.4,64.9 L584.4,64.4 L584.4,63.9 L584.4,63.4 L584.4,62.9 L584.4,62.4 L584.4,61.9 L584.4,61.4 L584.4,60.9 L584.4,60.4 L584.4,59.9 L584.4,59.4 L584.4,58.9 L584.4,58.4 L584.4,57.9 L584.4,57.4 L584.4,56.9 L584.4,56.4 L584.4,55.9 L584.4,55.4 L584.4,54.9 L584.4,54.4 L584.4,53.9 L584.4,53.4 L584.4,52.9 L584.4,52.4 L584.4,51.9 L584.4,51.4 L584.4,50.9 L584.4,50.4 L584.4,49.9 L584.4,49.4 L584.4,48.9 L584.4,48.4 L584.4,47.9 L584.4,47.4 L584.4,46.9 L584.4,46.4 L584.4,45.9 L584.4,45.4 L584.4,44.9 L584.4,44.4 L584.4,43.9 L584.4,43.4 L584.4,42.9 L584.4,42.4 L584.4,41.9 L584.4,41.4 L584.4,40.9 L584.4,40.4 L584.4,39.9 L584.4,39.4 L584.4,38.9 L584.4,38.4 L584.4,37.9 L584.4,37.4 L584.4,36.9 L584.4,36.4 L584.4,35.9 L584.4,35.4 L584.4,34.9 L584.4,34.4 L584.4,33.9 L584.4,33.4 L584.4,32.9 L584.4,32.4 L584.4,31.9 L584.4,31.4 L584.4,30.9 L584.4,30.4 L584.4,29.9 L584.4,29.4 L584.4,28.9 L584.4,28.4" fill="none" stroke="#000" stroke-width="1.5" stroke-linejoin="round"/>
<path d="M342.1,212.6 L342.2,212.1 L342.3,211.5 L342.4,211.0 L342.5,210.5 L342.8,210.0 L343.3,209.6 L343.9,209.3 L344.6,209.0 L345.2,208.7 L345.9,208.5 L346.7,208.3 L347.4,208.1 L348.1,207.9M355.7,206.4 L356.5,206.2 L357.2,206.1 L358.0,206.0 L358.7,205.9 L359.5,205.7 L360.3,205.6 L361.0,205.5 L361.8,205.4 L362.5,205.3 L363.3,205.1 L364.1,205.0 L364.8,204.9 L365.6,204.8M373.4,203.7 L374.1,203.6 L374.9,203.5 L375.7,203.4 L376.4,203.3 L377.2,203.2 L378.0,203.1 L378.7,203.0 L379.5,202.9 L380.3,202.8 L381.0,202.7 L381.8,202.6 L382.6,202.5 L383.3,202.4M391.1,201.3 L391.9,201.2 L392.7,201.1 L393.4,201.0 L394.2,200.9 L395.0,200.8 L395.7,200.7 L396.5,200.6 L397.3,200.6 L398.0,200.5 L398.8,200.4 L399.6,200.3 L400.3,200.2 L401.1,200.1M408.9,199.1 L409.7,199.0 L410.4,198.9 L411.2,198.8 L412.0,198.7 L412.7,198.6 L413.5,198.5 L414.3,198.4 L415.0,198.3 L415.8,198.2 L416.6,198.1 L417.3,198.0 L418.1,197.9 L418.9,197.8M426.7,196.7 L427.4,196.6 L428.2,196.5 L429.0,196.4 L429.7,196.3 L430.5,196.2 L431.3,196.1 L432.0,196.0 L432.8,195.9 L433.6,195.8 L434.3,195.7 L435.1,195.6 L435.9,195.5 L436.6,195.4M444.4,194.4 L445.2,194.3 L445.9,194.1 L446.7,194.0 L447.5,193.9 L448.2,193.8 L449.0,193.7 L449.8,193.6 L450.5,193.5 L451.3,193.4 L452.1,193.3 L452.8,193.2 L453.6,193.1 L454.3,193.0M462.1,191.8 L462.9,191.7 L463.6,191.6 L464.4,191.5 L465.2,191.4 L465.9,191.3 L466.7,191.2 L467.5,191.1 L468.2,190.9 L469.0,190.8 L469.7,190.7 L470.5,190.6 L471.3,190.5 L472.0,190.4M479.8,189.2 L480.5,189.0 L481.3,188.9 L482.0,188.8 L482.8,188.7 L483.6,188.5 L484.3,188.4 L485.1,188.3 L485.8,188.2 L486.6,188.0 L487.4,187.9 L488.1,187.8 L488.9,187.7 L489.6,187.5M497.3,186.2 L498.1,186.1 L498.8,185.9 L499.6,185.8 L500.3,185.7 L501.1,185.5 L501.8,185.4 L502.6,185.2 L503.4,185.1 L504.1,185.0 L504.9,184.8 L505.6,184.7 L506.4,184.5 L507.1,184.4M514.7,182.9 L515.5,182.7 L516.2,182.6 L517.0,182.4 L517.7,182.2 L518.5,182.1 L519.2,181.9 L519.9,181.8 L520.7,181.6 L521.4,181.4 L522.2,181.3 L522.9,181.1 L523.7,180.9 L524.4,180.8M531.9,179.0 L532.6,178.8 L533.3,178.6 L534.1,178.4 L534.8,178.2 L535.5,178.0 L536.3,177.8 L537.0,177.6 L537.7,177.4 L538.4,177.2 L539.2,177.0 L539.9,176.8 L540.6,176.6 L541.3,176.4M548.5,174.1 L549.2,173.9 L549.9,173.7 L550.6,173.4 L551.3,173.2 L552.0,172.9 L552.7,172.7 L553.3,172.4 L554.0,172.1 L554.7,171.9 L555.4,171.6 L556.0,171.3 L556.7,171.0 L557.4,170.8M563.8,167.6 L564.4,167.3 L565.0,167.0 L565.6,166.6 L566.2,166.3 L566.8,165.9 L567.4,165.6 L567.9,165.2 L568.5,164.8 L569.0,164.4 L569.6,164.0 L570.1,163.7 L570.6,163.3 L571.1,162.9M575.7,158.4 L576.0,158.0 L576.4,157.5 L576.8,157.0 L577.1,156.6 L577.5,156.1 L577.8,155.6 L578.1,155.1 L578.4,154.6 L578.7,154.1 L579.0,153.6 L579.2,153.1 L579.5,152.6 L579.7,152.1M581.7,146.9 L581.9,146.4 L582.0,145.9 L582.2,145.3 L582.3,144.8 L582.4,144.3 L582.6,143.8 L582.7,143.3 L582.8,142.7 L582.9,142.2 L583.0,141.7 L583.1,141.1 L583.2,140.6 L583.3,140.1M584.0,134.7 L584.0,134.2 L584.1,133.7 L584.1,133.1 L584.1,132.6 L584.2,132.1 L584.2,131.5 L584.3,131.0 L584.3,130.5 L584.3,129.9 L584.4,129.4 L584.4,128.9 L584.4,128.4 L584.4,127.8M584.4,122.4 L584.4,121.9 L584.4,121.4 L584.4,120.8 L584.4,120.3 L584.4,119.8 L584.4,119.2 L584.4,118.7 L584.4,118.2 L584.4,117.6 L584.4,117.1 L584.4,116.6 L584.4,116.1 L584.4,115.5M584.4,110.1 L584.4,109.6 L584.4,109.1 L584.4,108.5 L584.4,108.0 L584.4,107.5 L584.4,106.9 L584.4,106.4 L584.4,105.9 L584.4,105.3 L584.4,104.8 L584.4,104.3 L584.4,103.8 L584.4,103.2M584.4,97.8 L584.4,97.3 L584.4,96.8 L584.4,96.2 L584.4,95.7 L584.4,95.2 L584.4,94.6 L584.4,94.1 L584.4,93.6 L584.4,93.0 L584.4,92.5 L584.4,92.0 L584.4,91.5 L584.4,90.9M584.4,85.5 L584.4,85.0 L584.4,84.5 L584.4,84.0 L584.4,83.5 L584.4,83.0 L584.4,82.5 L584.4,82.0 L584.4,81.5 L584.4,81.0 L584.4,80.5 L584.4,80.0" fill="none" stroke="#ff0000" stroke-width="1.5" stroke-linejoin="round"/>
<path d="M342.1,212.6 L342.1,212.1 L342.2,211.6 L342.2,211.1 L342.3,210.6 L342.3,210.1 L342.4,209.5 L342.4,209.0 L342.5,208.5 L342.5,208.0 L342.7,207.5 L342.9,207.0 L343.1,206.5 L343.3,206.0 L343.6,205.6 L343.9,205.1 L344.2,204.6 L344.6,204.2 L344.9,203.7M347.8,201.2 L348.5,200.7 L349.2,200.2M352.8,198.1 L353.4,197.8 L354.0,197.6 L354.7,197.3 L355.3,197.0 L355.9,196.7 L356.6,196.4 L357.2,196.2 L357.9,195.9 L358.5,195.7 L359.2,195.4 L359.8,195.2 L360.5,194.9 L361.2,194.7 L361.8,194.4 L362.5,194.2 L363.2,194.0 L363.8,193.8 L364.5,193.5M368.8,192.2 L369.7,192.0 L370.7,191.7M375.1,190.5 L375.8,190.3 L376.5,190.1 L377.2,189.9 L377.9,189.8 L378.6,189.6 L379.3,189.4 L380.0,189.2 L380.7,189.1 L381.4,188.9 L382.1,188.7 L382.8,188.6 L383.5,188.4 L384.2,188.2 L385.0,188.1 L385.7,187.9 L386.4,187.7 L387.1,187.6 L387.8,187.4M392.3,186.4 L393.3,186.2 L394.2,186.0M398.7,185.0 L399.5,184.9 L400.2,184.7 L400.9,184.6 L401.6,184.4 L402.3,184.3 L403.1,184.1 L403.8,184.0 L404.5,183.9 L405.2,183.7 L405.9,183.6 L406.7,183.4 L407.4,183.3 L408.1,183.1 L408.8,183.0 L409.5,182.8 L410.3,182.7 L411.0,182.6 L411.7,182.4M416.2,181.5 L417.2,181.3 L418.2,181.2M422.7,180.3 L423.5,180.2 L424.2,180.0 L424.9,179.9 L425.6,179.7 L426.4,179.6 L427.1,179.5 L427.8,179.3 L428.5,179.2 L429.3,179.0 L430.0,178.9 L430.7,178.8 L431.4,178.6 L432.2,178.5 L432.9,178.4 L433.6,178.2 L434.3,178.1 L435.1,178.0 L435.8,177.8M440.3,177.0 L441.3,176.8 L442.3,176.6M446.8,175.7 L447.5,175.6 L448.3,175.4 L449.0,175.3 L449.7,175.2 L450.4,175.0 L451.2,174.9 L451.9,174.7 L452.6,174.6 L453.3,174.5 L454.1,174.3 L454.8,174.2 L455.5,174.0 L456.2,173.9 L456.9,173.8 L457.7,173.6 L458.4,173.5 L459.1,173.3 L459.8,173.2M464.4,172.3 L465.3,172.1 L466.3,171.9M470.8,171.0 L471.6,170.9 L472.3,170.7 L473.0,170.6 L473.7,170.4 L474.4,170.3 L475.2,170.1 L475.9,170.0 L476.6,169.8 L477.3,169.7 L478.0,169.5 L478.8,169.4 L479.5,169.2 L480.2,169.1 L480.9,168.9 L481.6,168.8 L482.4,168.6 L483.1,168.5 L483.8,168.3M488.3,167.3 L489.2,167.1 L490.2,166.9M494.7,165.9 L495.4,165.8 L496.1,165.6 L496.8,165.4 L497.5,165.3 L498.3,165.1 L499.0,164.9 L499.7,164.8 L500.4,164.6 L501.1,164.4 L501.8,164.3 L502.5,164.1 L503.2,163.9 L503.9,163.7 L504.6,163.6 L505.3,163.4 L506.1,163.2 L506.8,163.1 L507.5,162.9M511.9,161.8 L512.8,161.5 L513.8,161.3M518.2,160.1 L518.9,159.9 L519.6,159.7 L520.3,159.5 L521.0,159.3 L521.7,159.1 L522.3,158.9 L523.0,158.7 L523.7,158.5 L524.4,158.3 L525.1,158.1 L525.8,157.9 L526.5,157.7 L527.2,157.5 L527.9,157.3 L528.5,157.1 L529.2,156.9 L529.9,156.7 L530.6,156.4M534.8,155.1 L535.8,154.8 L536.7,154.4M540.9,153.0 L541.5,152.7 L542.2,152.5 L542.8,152.2 L543.5,152.0 L544.1,151.7 L544.8,151.5 L545.4,151.2 L546.1,150.9 L546.7,150.7 L547.4,150.4 L548.0,150.1 L548.6,149.9 L549.3,149.6 L549.9,149.3 L550.5,149.0 L551.2,148.8 L551.8,148.5 L552.4,148.2M556.2,146.3 L557.0,145.9 L557.9,145.4M561.4,143.4 L562.0,143.0 L562.5,142.7 L563.1,142.3 L563.6,142.0 L564.2,141.6 L564.7,141.2 L565.2,140.9 L565.7,140.5 L566.2,140.1 L566.7,139.7 L567.2,139.4 L567.7,139.0 L568.2,138.6 L568.7,138.2 L569.1,137.8 L569.6,137.4 L570.0,137.0 L570.5,136.6M573.1,133.9 L573.6,133.3 L574.1,132.7M576.2,129.8 L576.5,129.3 L576.8,128.9 L577.1,128.4 L577.3,127.9 L577.6,127.4 L577.9,127.0 L578.1,126.5 L578.4,126.0 L578.6,125.5 L578.8,125.0 L579.1,124.5 L579.3,124.0 L579.5,123.6 L579.7,123.1 L579.9,122.6 L580.1,122.1 L580.3,121.6 L580.4,121.1M581.4,117.9 L581.6,117.3 L581.8,116.6M582.5,113.4 L582.6,112.9 L582.6,112.4 L582.7,111.9 L582.8,111.4 L582.9,110.9 L583.0,110.4 L583.1,109.9 L583.1,109.3 L583.2,108.8 L583.3,108.3 L583.3,107.8 L583.4,107.3 L583.5,106.8 L583.5,106.3 L583.6,105.8 L583.6,105.3 L583.7,104.8 L583.7,104.2M584.0,101.1 L584.1,100.4 L584.1,99.7M584.3,96.5 L584.4,95.9 L584.4,95.4 L584.4,94.9 L584.4,94.4 L584.4,93.9 L584.4,93.4 L584.4,92.9 L584.4,92.4 L584.4,91.9 L584.4,91.3 L584.4,90.8 L584.4,90.3 L584.4,89.8 L584.4,89.3 L584.4,88.8 L584.4,88.3 L584.4,87.8 L584.4,87.3M584.4,84.1 L584.4,83.4 L584.4,82.7M584.4,79.5 L584.4,78.9 L584.4,78.4 L584.4,77.9 L584.4,77.4 L584.4,76.9 L584.4,76.4 L584.4,75.9 L584.4,75.4 L584.4,74.9 L584.4,74.3 L584.4,73.8 L584.4,73.3 L584.4,72.8 L584.4,72.3 L584.4,71.8 L584.4,71.3 L584.4,70.8 L584.4,70.3M584.4,67.1 L584.4,66.4 L584.4,65.7M584.4,62.5 L584.4,61.9 L584.4,61.4 L584.4,60.9 L584.4,60.4 L584.4,59.9 L584.4,59.4 L584.4,58.9 L584.4,58.4 L584.4,57.9 L584.4,57.3 L584.4,56.8 L584.4,56.3 L584.4,55.8 L584.4,55.3 L584.4,54.8 L584.4,54.3 L584.4,53.8 L584.4,53.3M584.4,50.1 L584.4,49.4 L584.4,48.7" fill="none" stroke="#00ff00" stroke-width="1.5" stroke-linejoin="round"/>
<path d="M342.1,212.6 L342.2,211.9 L342.4,211.2M345.0,209.2 L345.9,208.9 L346.8,208.6M350.7,207.7 L351.7,207.5 L352.7,207.3M356.7,206.7 L357.7,206.5 L358.7,206.3M362.7,205.7 L363.7,205.6 L364.7,205.4M368.8,204.9 L369.8,204.7 L370.8,204.6M374.8,204.1 L375.9,203.9 L376.9,203.8M380.9,203.3 L381.9,203.2 L382.9,203.0M387.0,202.5 L388.0,202.4 L389.0,202.3M393.1,201.8 L394.1,201.7 L395.1,201.5M399.1,201.1 L400.2,200.9 L401.2,200.8M405.2,200.3 L406.2,200.2 L407.3,200.1M411.3,199.6 L412.3,199.5 L413.3,199.3M417.4,198.8 L418.4,198.7 L419.4,198.6M423.5,198.1 L424.5,198.0 L425.5,197.9M429.5,197.4 L430.6,197.2 L431.6,197.1M435.6,196.6 L436.6,196.5 L437.6,196.3M441.7,195.8 L442.7,195.7 L443.7,195.6M447.8,195.0 L448.8,194.9 L449.8,194.8M453.8,194.2 L454.8,194.1 L455.8,194.0M459.9,193.4 L460.9,193.3 L461.9,193.2M465.9,192.6 L467.0,192.5 L468.0,192.3M472.0,191.8 L473.0,191.6 L474.0,191.5M478.0,190.9 L479.0,190.7 L480.0,190.6M484.1,190.0 L485.1,189.8 L486.1,189.7M490.1,189.1 L491.1,188.9 L492.1,188.8M496.1,188.1 L497.1,188.0 L498.1,187.8M502.1,187.1 L503.1,187.0 L504.1,186.8M508.1,186.1 L509.1,185.9 L510.1,185.7M514.1,185.0 L515.1,184.8 L516.1,184.7M520.0,183.9 L521.0,183.7 L522.0,183.5M525.9,182.7 L526.9,182.5 L527.9,182.3M531.8,181.4 L532.8,181.2 L533.8,181.0M537.7,180.0 L538.6,179.8 L539.6,179.6M543.4,178.6 L544.4,178.3 L545.3,178.0M549.1,176.9 L550.1,176.6 L551.0,176.3M554.7,175.1 L555.6,174.8 L556.5,174.5M560.1,173.1 L561.0,172.7 L561.8,172.3M565.2,170.7 L566.0,170.3 L566.8,169.9M569.9,168.0 L570.6,167.5 L571.4,167.0M574.0,164.9 L574.6,164.3 L575.2,163.7M577.3,161.3 L577.7,160.7 L578.2,160.0M579.7,157.4 L580.0,156.8 L580.3,156.1M581.4,153.4 L581.6,152.7 L581.8,152.0M582.5,149.3 L582.6,148.6 L582.7,147.9M583.2,145.1 L583.3,144.4 L583.4,143.7M583.7,140.9 L583.7,140.2 L583.8,139.5M584.0,136.7 L584.0,136.0 L584.1,135.3M584.2,132.5 L584.2,131.8 L584.3,131.1M584.3,128.3 L584.4,127.6 L584.4,126.9M584.4,124.1 L584.4,123.4 L584.4,122.7M584.4,119.9 L584.4,119.2 L584.4,118.5M584.4,115.7 L584.4,115.0 L584.4,114.3M584.4,111.5 L584.4,110.8 L584.4,110.1M584.4,107.3 L584.4,106.6 L584.4,105.9M584.4,103.1 L584.4,102.4 L584.4,101.7M584.4,98.9 L584.4,98.2 L584.4,97.5M584.4,94.7 L584.4,94.0 L584.4,93.3" fill="none" stroke="#0000ff" stroke-width="1.5" stroke-linejoin="round"/>
<path d="M47.1,446.6 L47.1,446.1 L47.2,445.6 L47.2,445.1 L47.3,444.6 L47.3,444.1 L47.4,443.6 L47.4,443.1 L47.5,442.6 L47.5,442.1 L47.6,441.6 L47.8,441.1 L47.9,440.6 L48.1,440.1 L48.3,439.7 L48.5,439.2 L48.7,438.7 L48.9,438.2 L49.2,437.7 L49.4,437.3 L49.7,436.8 L50.0,436.4 L50.3,435.9 L50.6,435.5 L51.0,435.0 L51.3,434.6 L51.7,434.1 L52.1,433.7 L52.5,433.3 L52.9,432.9 L53.3,432.5 L53.8,432.1 L54.2,431.7 L54.7,431.3 L55.2,430.9 L55.6,430.5 L56.1,430.1 L56.6,429.8 L57.1,429.4 L57.7,429.1 L58.2,428.7 L58.7,428.4 L59.3,428.0 L59.8,427.7 L60.4,427.4 L61.0,427.1 L61.5,426.8 L62.1,426.4 L62.7,426.1 L63.3,425.8 L63.9,425.5 L64.5,425.3 L65.1,425.0 L65.7,424.7 L66.3,424.4 L66.9,424.1 L67.6,423.9 L68.2,423.6 L68.8,423.4 L69.4,423.1 L70.1,422.8 L70.7,422.6 L71.4,422.3 L72.0,422.1 L72.6,421.9 L73.3,421.6 L73.9,421.4 L74.6,421.2 L75.3,420.9 L75.9,420.7 L76.6,420.5 L77.2,420.3 L77.9,420.0 L78.6,419.8 L79.2,419.6 L79.9,419.4 L80.6,419.2 L81.2,419.0 L81.9,418.8 L82.6,418.6 L83.3,418.4 L83.9,418.2 L84.6,418.0 L85.3,417.8 L86.0,417.6 L86.7,417.4 L87.3,417.2 L88.0,417.0 L88.7,416.9 L89.4,416.7 L90.1,416.5 L90.8,416.3 L91.4,416.1 L92.1,415.9 L92.8,415.8 L93.5,415.6 L94.2,415.4 L94.9,415.2 L95.6,415.1 L96.3,414.9 L97.0,414.7 L97.7,414.6 L98.3,414.4 L99.0,414.2 L99.7,414.1 L100.4,413.9 L101.1,413.7 L101.8,413.6 L102.5,413.4 L103.2,413.2 L103.9,413.1 L104.6,412.9 L105.3,412.7 L106.0,412.6 L106.7,412.4 L107.4,412.3 L108.1,412.1 L108.8,411.9 L109.5,411.8 L110.2,411.6 L110.9,411.5 L111.6,411.3 L112.3,411.2 L113.0,411.0 L113.7,410.9 L114.4,410.7 L115.1,410.6 L115.8,410.4 L116.5,410.2 L117.2,410.1 L117.9,409.9 L118.6,409.8 L119.3,409.6 L120.0,409.5 L120.7,409.3 L121.4,409.2 L122.1,409.0 L122.8,408.9 L123.5,408.7 L124.2,408.6 L124.9,408.4 L125.6,408.3 L126.3,408.1 L127.0,408.0 L127.7,407.8 L128.4,407.7 L129.1,407.5 L129.8,407.4 L130.5,407.2 L131.2,407.1 L132.0,406.9 L132.7,406.8 L133.4,406.6 L134.1,406.5 L134.8,406.3 L135.5,406.2 L136.2,406.1 L136.9,405.9 L137.6,405.8 L138.3,405.6 L139.0,405.5 L139.7,405.3 L140.4,405.2 L141.1,405.0 L141.8,404.9 L142.5,404.7 L143.2,404.6 L143.9,404.4 L144.6,404.3 L145.3,404.1 L146.0,404.0 L146.7,403.8 L147.4,403.7 L148.1,403.5 L148.8,403.4 L149.5,403.2 L150.2,403.1 L150.9,402.9 L151.6,402.8 L152.3,402.6 L153.0,402.5 L153.7,402.3 L154.4,402.2 L155.1,402.0 L155.8,401.9 L156.5,401.7 L157.2,401.5 L157.9,401.4 L158.6,401.2 L159.3,401.1 L160.0,400.9 L160.7,400.8 L161.4,400.6 L162.1,400.5 L162.8,400.3 L163.5,400.2 L164.2,400.0 L164.9,399.8 L165.6,399.7 L166.3,399.5 L167.0,399.4 L167.7,399.2 L168.4,399.1 L169.1,398.9 L169.8,398.7 L170.5,398.6 L171.2,398.4 L171.9,398.3 L172.6,398.1 L173.3,397.9 L174.0,397.8 L174.7,397.6 L175.4,397.5 L176.1,397.3 L176.8,397.1 L177.5,397.0 L178.2,396.8 L178.9,396.6 L179.6,396.5 L180.3,396.3 L181.0,396.2 L181.7,396.0 L182.4,395.8 L183.1,395.7 L183.8,395.5 L184.5,395.3 L185.2,395.2 L185.9,395.0 L186.5,394.8 L187.2,394.6 L187.9,394.5 L188.6,394.3 L189.3,394.1 L190.0,394.0 L190.7,393.8 L191.4,393.6 L192.1,393.5 L192.8,393.3 L193.5,393.1 L194.2,392.9 L194.8,392.8 L195.5,392.6 L196.2,392.4 L196.9,392.2 L197.6,392.0 L198.3,391.9 L199.0,391.7 L199.7,391.5 L200.4,391.3 L201.0,391.2 L201.7,391.0 L202.4,390.8 L203.1,390.6 L203.8,390.4 L204.5,390.2 L205.2,390.1 L205.8,389.9 L206.5,389.7 L207.2,389.5 L207.9,389.3 L208.6,389.1 L209.3,388.9 L209.9,388.8 L210.6,388.6 L211.3,388.4 L212.0,388.2 L212.7,388.0 L213.3,387.8 L214.0,387.6 L214.7,387.4 L215.4,387.2 L216.1,387.0 L216.7,386.8 L217.4,386.6 L218.1,386.4 L218.8,386.2 L219.4,386.0 L220.1,385.8 L220.8,385.6 L221.5,385.4 L222.1,385.2 L222.8,385.0 L223.5,384.8 L224.2,384.6 L224.8,384.4 L225.5,384.2 L226.2,384.0 L226.8,383.8 L227.5,383.6 L228.2,383.4 L228.8,383.2 L229.5,382.9 L230.2,382.7 L230.8,382.5 L231.5,382.3 L232.2,382.1 L232.8,381.9 L233.5,381.7 L234.2,381.4 L234.8,381.2 L235.5,381.0 L236.1,380.8 L236.8,380.5 L237.5,380.3 L238.1,380.1 L238.8,379.9 L239.4,379.6 L240.1,379.4 L240.7,379.2 L241.4,378.9 L242.0,378.7 L242.7,378.5 L243.3,378.2 L244.0,378.0 L244.6,377.8 L245.3,377.5 L245.9,377.3 L246.6,377.0 L247.2,376.8 L247.9,376.6 L248.5,376.3 L249.1,376.1 L249.8,375.8 L250.4,375.6 L251.0,375.3 L251.7,375.1 L252.3,374.8 L252.9,374.5 L253.6,374.3 L254.2,374.0 L254.8,373.7 L255.4,373.5 L256.1,373.2 L256.7,372.9 L257.3,372.7 L257.9,372.4 L258.5,372.1 L259.2,371.8 L259.8,371.6 L260.4,371.3 L261.0,371.0 L261.6,370.7 L262.2,370.4 L262.8,370.1 L263.4,369.8 L264.0,369.5 L264.6,369.2 L265.2,368.9 L265.7,368.6 L266.3,368.3 L266.9,368.0 L267.5,367.7 L268.0,367.4 L268.6,367.1 L269.2,366.8 L269.7,366.4 L270.3,366.1 L270.9,365.8 L271.4,365.4 L271.9,365.1 L272.5,364.8 L273.0,364.4 L273.6,364.1 L274.1,363.7 L274.6,363.4 L275.1,363.0 L275.6,362.7 L276.1,362.3 L276.6,361.9 L277.1,361.6 L277.6,361.2 L278.1,360.8 L278.6,360.4 L279.0,360.0 L279.5,359.6 L279.9,359.2 L280.4,358.8 L280.8,358.4 L281.3,358.0 L281.7,357.6 L282.1,357.2 L282.5,356.8 L282.9,356.4 L283.3,356.0 L283.7,355.5 L284.1,355.1 L284.4,354.7 L284.8,354.2 L285.1,353.8 L285.5,353.3 L285.8,352.9 L286.2,352.5 L286.5,352.0 L286.8,351.5 L287.1,351.1 L287.4,350.6 L287.7,350.2 L288.0,349.7 L288.2,349.2 L288.5,348.8 L288.8,348.3 L289.0,347.8 L289.3,347.4 L289.5,346.9 L289.7,346.4 L289.9,345.9 L290.2,345.5 L290.4,345.0 L290.6,344.5 L290.8,344.0 L291.0,343.5 L291.2,343.0 L291.3,342.6 L291.5,342.1 L291.7,341.6 L291.9,341.1 L292.0,340.6 L292.2,340.1 L292.3,339.6 L292.5,339.1 L292.6,338.7 L292.8,338.2 L292.9,337.7 L293.0,337.2 L293.2,336.7 L293.3,336.2 L293.4,335.7 L293.5,335.2 L293.6,334.7 L293.7,334.2 L293.8,333.7 L294.0,333.2 L294.1,332.7 L294.2,332.2 L294.3,331.7 L294.3,331.2 L294.4,330.7 L294.5,330.2 L294.6,329.7 L294.7,329.2 L294.8,328.8 L294.9,328.3 L294.9,327.8 L295.0,327.3 L295.1,326.8 L295.2,326.3 L295.2,325.8 L295.3,325.3 L295.4,324.8 L295.4,324.3 L295.5,323.8 L295.6,323.3 L295.6,322.8 L295.7,322.3 L295.7,321.8 L295.8,321.3 L295.9,320.8 L295.9,320.3 L296.0,319.8 L296.0,319.3 L296.1,318.8 L296.1,318.3 L296.2,317.8 L296.2,317.3 L296.3,316.8 L296.3,316.3 L296.4,315.8 L296.4,315.3 L296.4,314.8 L296.5,314.3 L296.5,313.8 L296.6,313.3 L296.6,312.8 L296.6,312.3 L296.7,311.8 L296.7,311.3 L296.8,310.8 L296.8,310.3 L296.8,309.8 L296.9,309.3 L296.9,308.8 L296.9,308.3 L297.0,307.8 L297.0,307.3 L297.0,306.8 L297.1,306.3 L297.1,305.8 L297.1,305.3 L297.1,304.8 L297.2,304.3 L297.2,303.8 L297.2,303.3 L297.2,302.8 L297.2,302.3 L297.2,301.8 L297.2,301.3 L297.2,300.8 L297.2,300.3 L297.2,299.8 L297.2,299.3 L297.2,298.8 L297.2,298.3 L297.2,297.8 L297.2,297.3 L297.2,296.8 L297.2,296.3 L297.2,295.8 L297.2,295.3 L297.2,294.8 L297.2,294.3 L297.2,293.8 L297.2,293.3 L297.2,292.8 L297.2,292.3 L297.2,291.8 L297.2,291.3 L297.2,290.8 L297.2,290.3 L297.2,289.8 L297.2,289.3 L297.2,288.8 L297.2,288.3 L297.2,287.8 L297.2,287.3 L297.2,286.8 L297.2,286.3 L297.2,285.7 L297.2,285.2 L297.2,284.7 L297.2,284.2 L297.2,283.7 L297.2,283.2 L297.2,282.7 L297.2,282.2 L297.2,281.7 L297.2,281.2 L297.2,280.7 L297.2,280.2 L297.2,279.7 L297.2,279.2 L297.2,278.7 L297.2,278.2 L297.2,277.7 L297.2,277.2 L297.2,276.7 L297.2,276.2 L297.2,275.7 L297.2,275.2 L297.2,274.7 L297.2,274.2 L297.2,273.7 L297.2,273.2 L297.2,272.7 L297.2,272.2 L297.2,271.7 L297.2,271.2 L297.2,270.7 L297.2,270.2 L297.2,269.7 L297.2,269.2 L297.2,268.7 L297.2,268.2 L297.2,267.7 L297.2,267.2 L297.2,266.7 L297.2,266.2 L297.2,265.7 L297.2,265.2 L297.2,264.7 L297.2,264.2 L297.2,263.7 L297.2,263.2 L297.2,262.7 L297.2,262.2 L297.2,261.7 L297.2,261.2 L297.2,260.7 L297.2,260.2 L297.2,259.7 L297.2,259.2 L297.2,258.7 L297.2,258.2 L297.2,257.7 L297.2,257.2 L297.2,256.7 L297.2,256.2 L297.2,255.7 L297.2,255.2 L297.2,254.7 L297.2,254.2 L297.2,253.7 L297.2,253.2 L297.2,252.7 L297.2,252.2 L297.2,251.7 L297.2,251.2" fill="none" stroke="#000" stroke-width="1.5" stroke-linejoin="round"/>
<path d="M47.1,446.6 L47.2,446.1 L47.4,445.6 L47.5,445.1 L47.9,444.7 L48.5,444.4 L49.1,444.1 L49.7,443.8 L50.3,443.6 L51.0,443.4 L51.7,443.2 L52.4,443.0 L53.0,442.8 L53.7,442.7 L54.4,442.5M61.7,441.2 L62.4,441.1 L63.1,440.9 L63.8,440.8 L64.5,440.7 L65.3,440.6 L66.0,440.5 L66.7,440.4 L67.4,440.3 L68.1,440.2 L68.9,440.1 L69.6,440.0 L70.3,439.9 L71.0,439.8 L71.7,439.7M79.1,438.7 L79.8,438.6 L80.5,438.5 L81.3,438.4 L82.0,438.4 L82.7,438.3 L83.4,438.2 L84.2,438.1 L84.9,438.0 L85.6,437.9 L86.3,437.8 L87.1,437.7 L87.8,437.6 L88.5,437.5 L89.2,437.5M96.6,436.5 L97.3,436.5 L98.1,436.4 L98.8,436.3 L99.5,436.2 L100.2,436.1 L100.9,436.0 L101.7,435.9 L102.4,435.8 L103.1,435.7 L103.8,435.7 L104.6,435.6 L105.3,435.5 L106.0,435.4 L106.7,435.3M114.1,434.4 L114.8,434.3 L115.6,434.2 L116.3,434.1 L117.0,434.0 L117.7,433.9 L118.5,433.8 L119.2,433.8 L119.9,433.7 L120.6,433.6 L121.3,433.5 L122.1,433.4 L122.8,433.3 L123.5,433.2 L124.2,433.1M131.6,432.2 L132.4,432.1 L133.2,432.0 L133.9,431.9 L134.7,431.8 L135.5,431.7 L136.3,431.6 L137.0,431.5 L137.8,431.4 L138.6,431.2 L139.4,431.1 L140.2,431.0 L140.9,430.9 L141.7,430.8M149.1,429.8 L149.8,429.7 L150.5,429.6 L151.2,429.5 L151.9,429.4 L152.7,429.3 L153.4,429.2 L154.1,429.1 L154.8,429.0 L155.5,428.9 L156.3,428.8 L157.0,428.7 L157.7,428.6 L158.4,428.5 L159.1,428.4M166.5,427.4 L167.2,427.2 L167.9,427.1 L168.6,427.0 L169.4,426.9 L170.1,426.8 L170.8,426.7 L171.5,426.6 L172.2,426.5 L172.9,426.4 L173.7,426.3 L174.4,426.2 L175.1,426.1 L175.8,425.9 L176.5,425.8M183.8,424.7 L184.6,424.6 L185.3,424.5 L186.0,424.3 L186.7,424.2 L187.4,424.1 L188.1,424.0 L188.8,423.9 L189.6,423.8 L190.3,423.6 L191.0,423.5 L191.7,423.4 L192.4,423.3 L193.1,423.2 L193.8,423.0M201.1,421.8 L201.8,421.7 L202.5,421.5 L203.2,421.4 L204.0,421.3 L204.7,421.1 L205.4,421.0 L206.1,420.9 L206.8,420.8 L207.5,420.6 L208.2,420.5 L208.9,420.4 L209.6,420.2 L210.3,420.1 L211.1,420.0M218.3,418.6 L219.0,418.4 L219.7,418.3 L220.4,418.2 L221.1,418.0 L221.8,417.9 L222.5,417.7 L223.2,417.6 L223.9,417.4 L224.6,417.3 L225.3,417.1 L226.0,417.0 L226.7,416.8 L227.4,416.7 L228.1,416.5M235.2,415.0 L235.9,414.8 L236.6,414.6 L237.3,414.5 L238.0,414.3 L238.7,414.1 L239.4,414.0 L240.1,413.8 L240.8,413.6 L241.5,413.5 L242.2,413.3 L242.9,413.1 L243.6,413.0 L244.3,412.8 L244.9,412.6M251.9,410.7 L252.6,410.5 L253.3,410.3 L253.9,410.1 L254.6,409.9 L255.3,409.7 L256.0,409.5 L256.6,409.3 L257.3,409.1 L258.0,408.9 L258.6,408.7 L259.3,408.5 L260.0,408.3 L260.6,408.0 L261.3,407.8M267.9,405.4 L268.5,405.2 L269.1,404.9 L269.8,404.6 L270.4,404.4 L271.0,404.1 L271.6,403.8 L272.2,403.5 L272.9,403.3 L273.5,403.0 L274.1,402.7 L274.6,402.4 L275.2,402.1 L275.8,401.8 L276.4,401.5M281.9,398.1 L282.4,397.7 L282.9,397.3 L283.4,396.9 L283.9,396.6 L284.3,396.2 L284.8,395.8 L285.2,395.4 L285.7,395.0 L286.1,394.6 L286.5,394.1 L286.9,393.7 L287.3,393.3 L287.7,392.9 L288.0,392.4M291.2,387.8 L291.5,387.3 L291.7,386.9 L291.9,386.4 L292.2,385.9 L292.4,385.4 L292.6,385.0 L292.8,384.5 L293.0,384.0 L293.2,383.5 L293.4,383.0 L293.5,382.6 L293.7,382.1 L293.9,381.6 L294.0,381.1M295.3,376.1 L295.4,375.6 L295.5,375.1 L295.6,374.6 L295.7,374.1 L295.8,373.6 L295.9,373.1 L296.0,372.6 L296.0,372.1 L296.1,371.6 L296.2,371.1 L296.3,370.6 L296.3,370.1 L296.4,369.6 L296.5,369.1M297.0,364.0 L297.1,363.5 L297.1,363.0 L297.2,362.5 L297.2,362.0 L297.2,361.5 L297.2,361.0 L297.2,360.5 L297.2,360.0 L297.2,359.5 L297.2,359.0 L297.2,358.5 L297.2,358.0 L297.2,357.5 L297.2,357.0M297.2,351.9 L297.2,351.4 L297.2,350.9 L297.2,350.4 L297.2,349.9 L297.2,349.4 L297.2,348.9 L297.2,348.4 L297.2,347.9 L297.2,347.4 L297.2,346.9 L297.2,346.4 L297.2,345.9 L297.2,345.4 L297.2,344.9M297.2,339.8 L297.2,339.3 L297.2,338.8 L297.2,338.3 L297.2,337.8 L297.2,337.3 L297.2,336.8 L297.2,336.3 L297.2,335.8 L297.2,335.3 L297.2,334.8 L297.2,334.3 L297.2,333.8 L297.2,333.3 L297.2,332.8M297.2,327.7 L297.2,327.2 L297.2,326.7 L297.2,326.2 L297.2,325.7 L297.2,325.2 L297.2,324.7 L297.2,324.2 L297.2,323.7 L297.2,323.2 L297.2,322.7 L297.2,322.2 L297.2,321.7 L297.2,321.2 L297.2,320.7" fill="none" stroke="#ff0000" stroke-width="1.5" stroke-linejoin="round"/>
<path d="M47.1,446.6 L47.1,446.1 L47.2,445.6 L47.2,445.1 L47.3,444.5 L47.4,444.0 L47.4,443.5 L47.5,443.0 L47.5,442.5 L47.7,442.0 L47.8,441.5 L48.0,441.0 L48.2,440.5 L48.4,440.0 L48.7,439.5M49.9,437.4 L50.4,436.8 L50.9,436.2M52.8,434.2 L53.2,433.8 L53.7,433.4 L54.2,433.0 L54.7,432.6 L55.2,432.3 L55.7,431.9 L56.3,431.5 L56.8,431.2 L57.3,430.8 L57.9,430.5 L58.5,430.1 L59.0,429.8 L59.6,429.5 L60.2,429.1M62.9,427.8 L63.8,427.4 L64.7,427.0M67.5,425.8 L68.2,425.5 L68.8,425.3 L69.5,425.0 L70.2,424.8 L70.8,424.5 L71.5,424.3 L72.2,424.1 L72.8,423.8 L73.5,423.6 L74.2,423.4 L74.9,423.1 L75.6,422.9 L76.3,422.7 L76.9,422.5M80.0,421.6 L81.0,421.3 L81.9,421.0M85.1,420.2 L85.8,420.0 L86.5,419.8 L87.2,419.6 L87.9,419.4 L88.6,419.2 L89.3,419.0 L90.0,418.9 L90.7,418.7 L91.4,418.5 L92.1,418.3 L92.9,418.2 L93.6,418.0 L94.3,417.8 L95.0,417.7M98.2,416.9 L99.2,416.7 L100.1,416.5M103.4,415.8 L104.1,415.6 L104.8,415.4 L105.5,415.3 L106.2,415.1 L107.0,415.0 L107.7,414.8 L108.4,414.7 L109.1,414.5 L109.9,414.4 L110.6,414.2 L111.3,414.1 L112.0,413.9 L112.7,413.8 L113.5,413.6M116.7,413.0 L117.7,412.8 L118.7,412.6M121.9,411.9 L122.7,411.8 L123.4,411.6 L124.1,411.5 L124.8,411.3 L125.6,411.2 L126.3,411.0 L127.0,410.9 L127.7,410.8 L128.5,410.6 L129.2,410.5 L129.9,410.3 L130.6,410.2 L131.4,410.0 L132.1,409.9M135.3,409.3 L136.3,409.1 L137.3,408.9M140.6,408.2 L141.3,408.1 L142.0,408.0 L142.8,407.8 L143.5,407.7 L144.2,407.5 L144.9,407.4 L145.7,407.2 L146.4,407.1 L147.1,407.0 L147.8,406.8 L148.6,406.7 L149.3,406.5 L150.0,406.4 L150.7,406.2M154.0,405.6 L155.0,405.4 L156.0,405.2M159.2,404.5 L159.9,404.4 L160.7,404.3 L161.4,404.1 L162.1,404.0 L162.8,403.8 L163.6,403.7 L164.3,403.5 L165.0,403.4 L165.7,403.2 L166.5,403.1 L167.2,402.9 L167.9,402.8 L168.6,402.6 L169.4,402.5M172.6,401.8 L173.6,401.6 L174.6,401.4M177.8,400.7 L178.5,400.6 L179.2,400.4 L179.9,400.2 L180.7,400.1 L181.4,399.9 L182.1,399.8 L182.8,399.6 L183.6,399.5 L184.3,399.3 L185.0,399.1 L185.7,399.0 L186.4,398.8 L187.1,398.7 L187.9,398.5M191.1,397.8 L192.1,397.6 L193.0,397.3M196.2,396.6 L196.9,396.4 L197.7,396.3 L198.4,396.1 L199.1,395.9 L199.8,395.8 L200.5,395.6 L201.2,395.4 L201.9,395.3 L202.7,395.1 L203.4,394.9 L204.1,394.7 L204.8,394.6 L205.5,394.4 L206.2,394.2M209.4,393.4 L210.4,393.2 L211.3,392.9M214.5,392.1 L215.2,391.9 L215.9,391.8 L216.6,391.6 L217.3,391.4 L218.0,391.2 L218.7,391.0 L219.4,390.8 L220.1,390.6 L220.8,390.4 L221.5,390.2 L222.2,390.1 L222.9,389.9 L223.6,389.7 L224.3,389.5M227.5,388.6 L228.4,388.3 L229.4,388.0M232.5,387.1 L233.1,386.9 L233.8,386.7 L234.5,386.5 L235.2,386.3 L235.9,386.1 L236.6,385.9 L237.3,385.6 L238.0,385.4 L238.7,385.2 L239.3,385.0 L240.0,384.8 L240.7,384.5 L241.4,384.3 L242.1,384.1M245.1,383.1 L246.0,382.8 L246.9,382.4M249.9,381.4 L250.6,381.1 L251.3,380.9 L251.9,380.6 L252.6,380.4 L253.2,380.1 L253.9,379.9 L254.6,379.6 L255.2,379.4 L255.9,379.1 L256.5,378.8 L257.2,378.6 L257.8,378.3 L258.4,378.0 L259.1,377.8M261.9,376.5 L262.8,376.1 L263.6,375.8M266.4,374.4 L267.0,374.1 L267.6,373.8 L268.2,373.5 L268.8,373.2 L269.4,372.9 L270.0,372.5 L270.6,372.2 L271.2,371.9 L271.8,371.6 L272.3,371.2 L272.9,370.9 L273.5,370.5 L274.0,370.2 L274.6,369.8M277.0,368.2 L277.7,367.7 L278.4,367.2M280.6,365.4 L281.0,365.0 L281.5,364.6 L281.9,364.2 L282.4,363.8 L282.8,363.4 L283.3,363.0 L283.7,362.5 L284.1,362.1 L284.5,361.7 L284.9,361.2 L285.3,360.8 L285.7,360.3 L286.0,359.9 L286.4,359.4M287.9,357.4 L288.3,356.7 L288.7,356.1M289.9,354.0 L290.2,353.5 L290.4,353.0 L290.7,352.5 L290.9,352.0 L291.1,351.5 L291.3,351.0 L291.6,350.5 L291.8,350.0 L292.0,349.5 L292.1,349.0 L292.3,348.5 L292.5,348.0 L292.7,347.5 L292.9,347.0M293.6,344.8 L293.8,344.1 L293.9,343.4M294.5,341.1 L294.6,340.6 L294.7,340.1 L294.8,339.6 L294.9,339.1 L295.0,338.6 L295.1,338.1 L295.2,337.6 L295.3,337.1 L295.4,336.6 L295.5,336.1 L295.6,335.5 L295.7,335.0 L295.8,334.5 L295.8,334.0M296.2,331.7 L296.3,331.0 L296.4,330.3M296.6,328.0 L296.7,327.5 L296.7,327.0 L296.8,326.5 L296.8,326.0 L296.9,325.5 L296.9,325.0 L297.0,324.4 L297.0,323.9 L297.1,323.4 L297.1,322.9 L297.2,322.4 L297.2,321.9 L297.2,321.4 L297.2,320.8M297.2,318.5 L297.2,317.8 L297.2,317.1M297.2,314.8 L297.2,314.3 L297.2,313.8 L297.2,313.3 L297.2,312.8 L297.2,312.3 L297.2,311.8 L297.2,311.2 L297.2,310.7 L297.2,310.2 L297.2,309.7 L297.2,309.2 L297.2,308.7 L297.2,308.2 L297.2,307.6M297.2,305.3 L297.2,304.6 L297.2,303.9M297.2,301.6 L297.2,301.1 L297.2,300.6 L297.2,300.1 L297.2,299.6 L297.2,299.1 L297.2,298.6 L297.2,298.0 L297.2,297.5 L297.2,297.0 L297.2,296.5 L297.2,296.0 L297.2,295.5 L297.2,295.0 L297.2,294.4M297.2,292.1 L297.2,291.4 L297.2,290.7M297.2,288.4 L297.2,287.9 L297.2,287.4 L297.2,286.9 L297.2,286.4 L297.2,285.9 L297.2,285.4 L297.2,284.8 L297.2,284.3 L297.2,283.8 L297.2,283.3 L297.2,282.8 L297.2,282.3 L297.2,281.8 L297.2,281.2M297.2,278.9 L297.2,278.2 L297.2,277.5M297.2,275.2 L297.2,274.7 L297.2,274.2 L297.2,273.7 L297.2,273.2 L297.2,272.7 L297.2,272.2 L297.2,271.7 L297.2,271.2 L297.2,270.6 L297.2,270.1 L297.2,269.6 L297.2,269.1 L297.2,268.6" fill="none" stroke="#00ff00" stroke-width="1.5" stroke-linejoin="round"/>
<path d="M47.1,446.6 L47.3,445.9 L47.7,445.3M50.5,443.9 L51.4,443.6 L52.4,443.3M55.7,442.6 L56.7,442.4 L57.7,442.2M61.1,441.6 L62.1,441.4 L63.2,441.3M66.6,440.8 L67.6,440.6 L68.6,440.5M72.1,440.0 L73.1,439.9 L74.1,439.8M77.6,439.4 L78.6,439.2 L79.6,439.1M83.1,438.7 L84.1,438.6 L85.1,438.5M88.6,438.1 L89.6,438.0 L90.6,437.8M94.1,437.4 L95.1,437.3 L96.1,437.2M99.6,436.8 L100.6,436.7 L101.7,436.6M105.1,436.2 L106.2,436.1 L107.2,436.0M110.7,435.6 L111.7,435.5 L112.7,435.4M116.2,435.0 L117.2,434.9 L118.2,434.7M121.7,434.3 L122.7,434.2 L123.7,434.1M127.2,433.7 L128.2,433.6 L129.2,433.5M132.7,433.0 L133.7,432.9 L134.7,432.8M138.2,432.4 L139.2,432.2 L140.2,432.1M143.7,431.7 L144.7,431.6 L145.7,431.4M149.2,431.0 L150.2,430.9 L151.2,430.7M154.7,430.3 L155.7,430.1 L156.7,430.0M160.2,429.5 L161.2,429.4 L162.2,429.3M165.6,428.8 L166.6,428.7 L167.7,428.5M171.1,428.0 L172.1,427.9 L173.1,427.7M176.6,427.2 L177.6,427.1 L178.6,426.9M182.0,426.4 L183.0,426.3 L184.0,426.1M187.5,425.6 L188.5,425.4 L189.5,425.3M192.9,424.7 L193.9,424.6 L194.9,424.4M198.4,423.8 L199.4,423.7 L200.4,423.5M203.8,422.9 L204.8,422.7 L205.8,422.6M209.2,422.0 L210.2,421.8 L211.2,421.6M214.6,421.0 L215.6,420.8 L216.6,420.6M220.0,420.0 L221.0,419.8 L221.9,419.6M225.3,418.9 L226.3,418.7 L227.3,418.5M230.7,417.8 L231.7,417.6 L232.6,417.4M236.0,416.6 L237.0,416.4 L238.0,416.2M241.3,415.4 L242.3,415.2 L243.2,415.0M246.6,414.2 L247.5,413.9 L248.5,413.7M251.8,412.8 L252.7,412.5 L253.7,412.3M257.0,411.4 L257.9,411.1 L258.8,410.8M262.1,409.8 L263.0,409.5 L263.9,409.2M267.1,408.1 L268.0,407.8 L268.9,407.5M271.9,406.3 L272.8,405.9 L273.7,405.5M276.6,404.2 L277.4,403.8 L278.3,403.3M281.0,401.8 L281.8,401.3 L282.5,400.9M284.9,399.1 L285.6,398.6 L286.2,398.0M288.3,396.1 L288.8,395.5 L289.3,394.9M290.9,392.7 L291.3,392.1 L291.7,391.5M292.9,389.2 L293.2,388.5 L293.4,387.8M294.3,385.5 L294.5,384.8 L294.7,384.1M295.2,381.8 L295.4,381.1 L295.5,380.4M295.9,378.0 L296.0,377.3 L296.1,376.6M296.4,374.2 L296.5,373.5 L296.6,372.8M296.8,370.4 L296.9,369.7 L296.9,369.0M297.1,366.6 L297.1,365.9 L297.2,365.2M297.2,362.8 L297.2,362.1 L297.2,361.4M297.2,359.0 L297.2,358.3 L297.2,357.6M297.2,355.2 L297.2,354.5 L297.2,353.8M297.2,351.4 L297.2,350.7 L297.2,350.0M297.2,347.6 L297.2,346.9 L297.2,346.2M297.2,343.8 L297.2,343.1 L297.2,342.4M297.2,340.0 L297.2,339.3 L297.2,338.6M297.2,336.2 L297.2,335.5 L297.2,334.8M297.2,332.4 L297.2,331.7 L297.2,331.0M297.2,328.6 L297.2,328.0" fill="none" stroke="#0000ff" stroke-width="1.5" stroke-linejoin="round"/>
<path d="M342.1,446.6 L342.1,446.1 L342.1,445.6 L342.2,445.1 L342.2,444.6 L342.3,444.1 L342.3,443.6 L342.4,443.1 L342.4,442.6 L342.4,442.1 L342.5,441.6 L342.5,441.1 L342.7,440.6 L342.8,440.1 L343.0,439.6 L343.1,439.1 L343.3,438.7 L343.5,438.2 L343.8,437.7 L344.0,437.2 L344.3,436.8 L344.6,436.3 L344.9,435.9 L345.3,435.4 L345.6,435.0 L346.0,434.5 L346.3,434.1 L346.7,433.7 L347.2,433.3 L347.6,432.9 L348.0,432.5 L348.5,432.1 L348.9,431.7 L349.4,431.3 L349.9,430.9 L350.4,430.6 L350.9,430.2 L351.4,429.9 L352.0,429.5 L352.5,429.2 L353.0,428.8 L353.6,428.5 L354.1,428.2 L354.7,427.8 L355.3,427.5 L355.8,427.2 L356.4,426.9 L357.0,426.6 L357.6,426.3 L358.2,426.0 L358.8,425.7 L359.4,425.4 L360.0,425.1 L360.6,424.8 L361.2,424.5 L361.8,424.3 L362.4,424.0 L363.0,423.7 L363.7,423.5 L364.3,423.2 L364.9,422.9 L365.5,422.7 L366.2,422.4 L366.8,422.2 L367.4,421.9 L368.1,421.7 L368.7,421.4 L369.4,421.2 L370.0,420.9 L370.7,420.7 L371.3,420.5 L372.0,420.2 L372.6,420.0 L373.3,419.8 L373.9,419.5 L374.6,419.3 L375.2,419.1 L375.9,418.9 L376.5,418.6 L377.2,418.4 L377.9,418.2 L378.5,418.0 L379.2,417.7 L379.8,417.5 L380.5,417.3 L381.2,417.1 L381.8,416.9 L382.5,416.7 L383.2,416.5 L383.8,416.3 L384.5,416.1 L385.2,415.8 L385.9,415.6 L386.5,415.4 L387.2,415.2 L387.9,415.0 L388.6,414.8 L389.2,414.6 L389.9,414.4 L390.6,414.2 L391.3,414.0 L391.9,413.8 L392.6,413.6 L393.3,413.4 L394.0,413.3 L394.6,413.1 L395.3,412.9 L396.0,412.7 L396.7,412.5 L397.4,412.3 L398.0,412.1 L398.7,411.9 L399.4,411.7 L400.1,411.5 L400.8,411.3 L401.4,411.2 L402.1,411.0 L402.8,410.8 L403.5,410.6 L404.2,410.4 L404.9,410.2 L405.5,410.0 L406.2,409.9 L406.9,409.7 L407.6,409.5 L408.3,409.3 L409.0,409.1 L409.7,408.9 L410.3,408.8 L411.0,408.6 L411.7,408.4 L412.4,408.2 L413.1,408.0 L413.8,407.9 L414.5,407.7 L415.1,407.5 L415.8,407.3 L416.5,407.1 L417.2,407.0 L417.9,406.8 L418.6,406.6 L419.3,406.4 L420.0,406.2 L420.6,406.1 L421.3,405.9 L422.0,405.7 L422.7,405.5 L423.4,405.4 L424.1,405.2 L424.8,405.0 L425.5,404.8 L426.1,404.7 L426.8,404.5 L427.5,404.3 L428.2,404.1 L428.9,403.9 L429.6,403.8 L430.3,403.6 L431.0,403.4 L431.7,403.2 L432.3,403.1 L433.0,402.9 L433.7,402.7 L434.4,402.5 L435.1,402.4 L435.8,402.2 L436.5,402.0 L437.2,401.8 L437.9,401.7 L438.6,401.5 L439.2,401.3 L439.9,401.1 L440.6,401.0 L441.3,400.8 L442.0,400.6 L442.7,400.4 L443.4,400.3 L444.1,400.1 L444.8,399.9 L445.4,399.7 L446.1,399.6 L446.8,399.4 L447.5,399.2 L448.2,399.0 L448.9,398.9 L449.6,398.7 L450.3,398.5 L451.0,398.3 L451.6,398.2 L452.3,398.0 L453.0,397.8 L453.7,397.6 L454.4,397.5 L455.1,397.3 L455.8,397.1 L456.5,396.9 L457.2,396.7 L457.8,396.6 L458.5,396.4 L459.2,396.2 L459.9,396.0 L460.6,395.9 L461.3,395.7 L462.0,395.5 L462.7,395.3 L463.3,395.1 L464.0,395.0 L464.7,394.8 L465.4,394.6 L466.1,394.4 L466.8,394.2 L467.5,394.1 L468.1,393.9 L468.8,393.7 L469.5,393.5 L470.2,393.3 L470.9,393.1 L471.6,393.0 L472.3,392.8 L472.9,392.6 L473.6,392.4 L474.3,392.2 L475.0,392.0 L475.7,391.9 L476.4,391.7 L477.0,391.5 L477.7,391.3 L478.4,391.1 L479.1,390.9 L479.8,390.8 L480.5,390.6 L481.1,390.4 L481.8,390.2 L482.5,390.0 L483.2,389.8 L483.9,389.6 L484.6,389.4 L485.2,389.2 L485.9,389.1 L486.6,388.9 L487.3,388.7 L488.0,388.5 L488.6,388.3 L489.3,388.1 L490.0,387.9 L490.7,387.7 L491.4,387.5 L492.0,387.3 L492.7,387.1 L493.4,386.9 L494.1,386.7 L494.7,386.5 L495.4,386.3 L496.1,386.1 L496.8,385.9 L497.4,385.7 L498.1,385.5 L498.8,385.3 L499.5,385.1 L500.1,384.9 L500.8,384.7 L501.5,384.5 L502.2,384.3 L502.8,384.1 L503.5,383.9 L504.2,383.7 L504.8,383.5 L505.5,383.3 L506.2,383.1 L506.8,382.9 L507.5,382.7 L508.2,382.5 L508.9,382.3 L509.5,382.0 L510.2,381.8 L510.8,381.6 L511.5,381.4 L512.2,381.2 L512.8,381.0 L513.5,380.8 L514.2,380.5 L514.8,380.3 L515.5,380.1 L516.2,379.9 L516.8,379.7 L517.5,379.4 L518.1,379.2 L518.8,379.0 L519.4,378.8 L520.1,378.5 L520.8,378.3 L521.4,378.1 L522.1,377.9 L522.7,377.6 L523.4,377.4 L524.0,377.2 L524.7,376.9 L525.3,376.7 L526.0,376.5 L526.6,376.2 L527.3,376.0 L527.9,375.7 L528.6,375.5 L529.2,375.2 L529.8,375.0 L530.5,374.8 L531.1,374.5 L531.8,374.3 L532.4,374.0 L533.0,373.8 L533.7,373.5 L534.3,373.3 L534.9,373.0 L535.6,372.7 L536.2,372.5 L536.8,372.2 L537.4,372.0 L538.1,371.7 L538.7,371.4 L539.3,371.2 L539.9,370.9 L540.5,370.6 L541.2,370.3 L541.8,370.1 L542.4,369.8 L543.0,369.5 L543.6,369.2 L544.2,368.9 L544.8,368.6 L545.4,368.4 L546.0,368.1 L546.6,367.8 L547.2,367.5 L547.8,367.2 L548.4,366.9 L549.0,366.6 L549.6,366.3 L550.1,366.0 L550.7,365.7 L551.3,365.3 L551.9,365.0 L552.4,364.7 L553.0,364.4 L553.6,364.1 L554.1,363.7 L554.7,363.4 L555.2,363.1 L555.8,362.8 L556.3,362.4 L556.9,362.1 L557.4,361.7 L557.9,361.4 L558.5,361.0 L559.0,360.7 L559.5,360.3 L560.0,360.0 L560.5,359.6 L561.0,359.3 L561.5,358.9 L562.0,358.5 L562.5,358.1 L563.0,357.8 L563.5,357.4 L563.9,357.0 L564.4,356.6 L564.9,356.2 L565.3,355.8 L565.8,355.4 L566.2,355.0 L566.7,354.6 L567.1,354.2 L567.5,353.8 L567.9,353.4 L568.3,353.0 L568.7,352.6 L569.1,352.2 L569.5,351.7 L569.9,351.3 L570.3,350.9 L570.7,350.4 L571.0,350.0 L571.4,349.6 L571.7,349.1 L572.1,348.7 L572.4,348.2 L572.7,347.8 L573.1,347.3 L573.4,346.9 L573.7,346.4 L574.0,346.0 L574.3,345.5 L574.6,345.1 L574.9,344.6 L575.1,344.1 L575.4,343.7 L575.7,343.2 L575.9,342.7 L576.2,342.3 L576.4,341.8 L576.6,341.3 L576.9,340.8 L577.1,340.4 L577.3,339.9 L577.5,339.4 L577.7,338.9 L577.9,338.4 L578.1,338.0 L578.3,337.5 L578.5,337.0 L578.7,336.5 L578.9,336.0 L579.0,335.5 L579.2,335.0 L579.4,334.6 L579.5,334.1 L579.7,333.6 L579.8,333.1 L580.0,332.6 L580.1,332.1 L580.2,331.6 L580.4,331.1 L580.5,330.6 L580.6,330.1 L580.8,329.6 L580.9,329.2 L581.0,328.7 L581.1,328.2 L581.2,327.7 L581.3,327.2 L581.4,326.7 L581.5,326.2 L581.6,325.7 L581.7,325.2 L581.8,324.7 L581.9,324.2 L582.0,323.7 L582.1,323.2 L582.2,322.7 L582.3,322.2 L582.3,321.7 L582.4,321.2 L582.5,320.7 L582.6,320.2 L582.6,319.7 L582.7,319.2 L582.8,318.7 L582.8,318.2 L582.9,317.7 L583.0,317.2 L583.0,316.7 L583.1,316.2 L583.1,315.7 L583.2,315.2 L583.3,314.7 L583.3,314.2 L583.4,313.7 L583.4,313.2 L583.5,312.7 L583.5,312.2 L583.6,311.7 L583.6,311.2 L583.6,310.7 L583.7,310.2 L583.7,309.7 L583.8,309.2 L583.8,308.7 L583.9,308.2 L583.9,307.7 L583.9,307.2 L584.0,306.7 L584.0,306.2 L584.0,305.7 L584.1,305.2 L584.1,304.7 L584.1,304.2 L584.2,303.7 L584.2,303.2 L584.2,302.7 L584.3,302.2 L584.3,301.7 L584.3,301.2 L584.3,300.7 L584.3,300.2 L584.3,299.7 L584.3,299.2 L584.3,298.7 L584.3,298.2 L584.3,297.7 L584.3,297.2 L584.3,296.7 L584.3,296.2 L584.3,295.7 L584.3,295.2 L584.3,294.7 L584.3,294.2 L584.3,293.7 L584.3,293.2 L584.3,292.7 L584.3,292.2 L584.3,291.7 L584.3,291.2 L584.3,290.7 L584.3,290.2 L584.3,289.7 L584.3,289.2 L584.3,288.7 L584.3,288.2 L584.3,287.7 L584.3,287.2 L584.3,286.7 L584.3,286.2 L584.3,285.7 L584.3,285.2 L584.3,284.7 L584.3,284.2 L584.3,283.7 L584.3,283.2 L584.3,282.7 L584.3,282.2 L584.3,281.7 L584.3,281.2 L584.3,280.7 L584.3,280.2 L584.3,279.7 L584.3,279.2 L584.3,278.7 L584.3,278.2 L584.3,277.7 L584.3,277.2 L584.3,276.7 L584.3,276.2 L584.3,275.7 L584.3,275.2 L584.3,274.7 L584.3,274.2 L584.3,273.7 L584.3,273.2 L584.3,272.7 L584.3,272.2 L584.3,271.7 L584.3,271.2 L584.3,270.7 L584.3,270.2 L584.3,269.7 L584.3,269.2 L584.3,268.7 L584.3,268.2 L584.3,267.7 L584.3,267.2 L584.3,266.7 L584.3,266.2 L584.3,265.7 L584.3,265.2 L584.3,264.7 L584.3,264.2 L584.3,263.7 L584.3,263.2 L584.3,262.7 L584.3,262.2 L584.3,261.7 L584.3,261.2 L584.3,260.7 L584.3,260.2 L584.3,259.7 L584.3,259.2 L584.3,258.7 L584.3,258.2 L584.3,257.7 L584.3,257.2 L584.3,256.7 L584.3,256.2 L584.3,255.7 L584.3,255.2 L584.3,254.7 L584.3,254.2 L584.3,253.7 L584.3,253.2 L584.3,252.7 L584.3,252.2 L584.3,251.7 L584.3,251.2 L584.3,250.7 L584.3,250.2 L584.3,249.7 L584.3,249.2 L584.3,248.7 L584.3,248.2 L584.3,247.7 L584.3,247.2 L584.3,246.7 L584.3,246.2 L584.3,245.7" fill="none" stroke="#000" stroke-width="1.5" stroke-linejoin="round"/>
<path d="M342.1,446.6 L342.3,446.1 L342.5,445.6 L342.9,445.1 L343.4,444.8 L344.1,444.5 L344.8,444.2 L345.5,444.0 L346.2,443.8 L346.9,443.6 L347.7,443.4 L348.4,443.3 L349.1,443.1 L349.9,443.0M357.6,441.6 L358.4,441.5 L359.1,441.4 L359.9,441.3 L360.6,441.2 L361.4,441.1 L362.2,441.0 L362.9,440.9 L363.7,440.8 L364.5,440.7 L365.2,440.6 L366.0,440.5 L366.8,440.4 L367.5,440.3M375.3,439.3 L376.1,439.2 L376.9,439.1 L377.7,439.0 L378.4,438.9 L379.2,438.8 L380.0,438.7 L380.7,438.6 L381.5,438.5 L382.3,438.4 L383.0,438.4 L383.8,438.3 L384.6,438.2 L385.3,438.1M393.2,437.1 L393.9,437.1 L394.7,437.0 L395.5,436.9 L396.2,436.8 L397.0,436.7 L397.8,436.6 L398.5,436.5 L399.3,436.4 L400.1,436.3 L400.8,436.2 L401.6,436.1 L402.4,436.1 L403.2,436.0M411.0,435.0 L411.7,434.9 L412.5,434.8 L413.3,434.7 L414.0,434.7 L414.8,434.6 L415.6,434.5 L416.4,434.4 L417.1,434.3 L417.9,434.2 L418.7,434.1 L419.4,434.0 L420.2,433.9 L421.0,433.8M428.8,432.8 L429.5,432.7 L430.3,432.6 L431.1,432.5 L431.8,432.4 L432.6,432.3 L433.4,432.2 L434.1,432.1 L434.9,432.0 L435.7,431.9 L436.4,431.8 L437.2,431.7 L438.0,431.6 L438.7,431.5M446.5,430.5 L447.3,430.4 L448.1,430.3 L448.8,430.2 L449.6,430.1 L450.4,430.0 L451.1,429.9 L451.9,429.8 L452.7,429.7 L453.4,429.6 L454.2,429.4 L454.9,429.3 L455.7,429.2 L456.5,429.1M464.2,428.0 L465.0,427.9 L465.8,427.8 L466.5,427.7 L467.3,427.6 L468.1,427.4 L468.8,427.3 L469.6,427.2 L470.3,427.1 L471.1,427.0 L471.9,426.9 L472.6,426.7 L473.4,426.6 L474.2,426.5M481.9,425.3 L482.6,425.2 L483.4,425.0 L484.2,424.9 L484.9,424.8 L485.7,424.7 L486.4,424.5 L487.2,424.4 L488.0,424.3 L488.7,424.1 L489.5,424.0 L490.2,423.9 L491.0,423.8 L491.7,423.6M499.4,422.3 L500.2,422.1 L500.9,422.0 L501.7,421.8 L502.4,421.7 L503.2,421.6 L503.9,421.4 L504.7,421.3 L505.4,421.1 L506.2,421.0 L506.9,420.8 L507.7,420.7 L508.4,420.6 L509.2,420.4M516.8,418.9 L517.5,418.7 L518.3,418.5 L519.0,418.4 L519.8,418.2 L520.5,418.0 L521.3,417.9 L522.0,417.7 L522.7,417.6 L523.5,417.4 L524.2,417.2 L525.0,417.0 L525.7,416.9 L526.4,416.7M533.9,414.9 L534.6,414.7 L535.4,414.5 L536.1,414.3 L536.8,414.1 L537.5,413.9 L538.3,413.7 L539.0,413.5 L539.7,413.3 L540.4,413.1 L541.2,412.9 L541.9,412.7 L542.6,412.5 L543.3,412.3M550.5,410.0 L551.2,409.7 L551.9,409.5 L552.6,409.2 L553.3,409.0 L553.9,408.7 L554.6,408.5 L555.3,408.2 L556.0,407.9 L556.6,407.7 L557.3,407.4 L558.0,407.1 L558.6,406.8 L559.3,406.6M565.7,403.4 L566.3,403.1 L566.9,402.7 L567.5,402.4 L568.1,402.0 L568.7,401.7 L569.2,401.3 L569.8,400.9 L570.3,400.5 L570.9,400.1 L571.4,399.8 L571.9,399.4 L572.4,399.0 L572.9,398.5M577.3,394.0 L577.6,393.6 L578.0,393.1 L578.3,392.6 L578.6,392.1 L578.9,391.6 L579.2,391.1 L579.5,390.6 L579.7,390.1 L580.0,389.6 L580.2,389.1 L580.5,388.6 L580.7,388.1 L580.9,387.6M582.5,382.3 L582.7,381.8 L582.8,381.3 L582.9,380.7 L583.0,380.2 L583.1,379.7 L583.2,379.2 L583.2,378.6 L583.3,378.1 L583.4,377.6 L583.5,377.1 L583.5,376.5 L583.6,376.0 L583.7,375.5M584.1,370.1 L584.2,369.5 L584.2,369.0 L584.2,368.5 L584.3,368.0 L584.3,367.4 L584.3,366.9 L584.3,366.4 L584.3,365.8 L584.3,365.3 L584.3,364.8 L584.3,364.2 L584.3,363.7 L584.3,363.2M584.3,357.8 L584.3,357.2 L584.3,356.7 L584.3,356.2 L584.3,355.7 L584.3,355.1 L584.3,354.6 L584.3,354.1 L584.3,353.5 L584.3,353.0 L584.3,352.5 L584.3,351.9 L584.3,351.4 L584.3,350.9M584.3,345.5 L584.3,344.9 L584.3,344.4 L584.3,343.9 L584.3,343.4 L584.3,342.8 L584.3,342.3 L584.3,341.8 L584.3,341.2 L584.3,340.7 L584.3,340.2 L584.3,339.6 L584.3,339.1 L584.3,338.6M584.3,333.2 L584.3,332.6 L584.3,332.1 L584.3,331.6 L584.3,331.1 L584.3,330.5 L584.3,330.0 L584.3,329.5 L584.3,328.9 L584.3,328.4 L584.3,327.9 L584.3,327.3 L584.3,326.8 L584.3,326.3M584.3,320.9 L584.3,320.3 L584.3,319.7 L584.3,319.2 L584.3,318.6 L584.3,318.0" fill="none" stroke="#ff0000" stroke-width="1.5" stroke-linejoin="round"/>
<path d="M342.1,446.6 L342.1,446.1 L342.2,445.6 L342.2,445.1 L342.3,444.6 L342.3,444.0 L342.3,443.5 L342.4,443.0 L342.4,442.5 L342.5,442.0 L342.5,441.5 L342.7,441.0 L342.9,440.5 L343.0,440.0 L343.3,439.5 L343.5,439.0 L343.8,438.6 L344.1,438.1 L344.4,437.6M346.8,434.9 L347.5,434.4 L348.1,433.8M351.4,431.5 L352.0,431.2 L352.6,430.9 L353.2,430.5 L353.7,430.2 L354.3,429.9 L354.9,429.6 L355.5,429.3 L356.1,429.0 L356.7,428.7 L357.4,428.4 L358.0,428.1 L358.6,427.8 L359.2,427.5 L359.9,427.2 L360.5,427.0 L361.1,426.7 L361.8,426.4 L362.4,426.2M366.5,424.6 L367.4,424.2 L368.3,423.9M372.5,422.4 L373.1,422.2 L373.8,422.0 L374.5,421.8 L375.2,421.5 L375.9,421.3 L376.5,421.1 L377.2,420.9 L377.9,420.7 L378.6,420.4 L379.3,420.2 L379.9,420.0 L380.6,419.8 L381.3,419.6 L382.0,419.4 L382.7,419.2 L383.4,419.0 L384.1,418.8 L384.7,418.6M389.1,417.3 L390.0,417.0 L391.0,416.8M395.3,415.6 L396.0,415.4 L396.7,415.2 L397.4,415.0 L398.1,414.8 L398.8,414.6 L399.5,414.4 L400.2,414.2 L400.9,414.0 L401.6,413.9 L402.3,413.7 L403.0,413.5 L403.7,413.3 L404.4,413.1 L405.1,412.9 L405.8,412.8 L406.5,412.6 L407.2,412.4 L407.9,412.2M412.3,411.1 L413.3,410.8 L414.3,410.6M418.7,409.5 L419.4,409.3 L420.1,409.1 L420.8,409.0 L421.5,408.8 L422.2,408.6 L422.9,408.4 L423.6,408.3 L424.3,408.1 L425.0,407.9 L425.7,407.7 L426.4,407.6 L427.2,407.4 L427.9,407.2 L428.6,407.0 L429.3,406.9 L430.0,406.7 L430.7,406.5 L431.4,406.3M435.8,405.3 L436.8,405.0 L437.8,404.8M442.2,403.7 L442.9,403.6 L443.6,403.4 L444.3,403.2 L445.0,403.0 L445.7,402.9 L446.5,402.7 L447.2,402.5 L447.9,402.4 L448.6,402.2 L449.3,402.0 L450.0,401.8 L450.7,401.7 L451.4,401.5 L452.1,401.3 L452.8,401.2 L453.5,401.0 L454.2,400.8 L455.0,400.7M459.4,399.6 L460.4,399.3 L461.3,399.1M465.8,398.0 L466.5,397.9 L467.2,397.7 L467.9,397.5 L468.6,397.3 L469.3,397.2 L470.0,397.0 L470.7,396.8 L471.4,396.6 L472.1,396.5 L472.8,396.3 L473.5,396.1 L474.2,395.9 L474.9,395.8 L475.7,395.6 L476.4,395.4 L477.1,395.2 L477.8,395.1 L478.5,394.9M482.9,393.8 L483.9,393.5 L484.8,393.3M489.2,392.2 L489.9,392.0 L490.6,391.8 L491.3,391.6 L492.0,391.4 L492.7,391.3 L493.4,391.1 L494.1,390.9 L494.8,390.7 L495.5,390.5 L496.2,390.3 L496.9,390.2 L497.6,390.0 L498.3,389.8 L499.0,389.6 L499.7,389.4 L500.4,389.2 L501.1,389.0 L501.8,388.8M506.2,387.7 L507.2,387.4 L508.1,387.1M512.5,385.9 L513.1,385.7 L513.8,385.5 L514.5,385.3 L515.2,385.1 L515.9,384.9 L516.6,384.7 L517.3,384.5 L518.0,384.3 L518.7,384.1 L519.4,383.9 L520.0,383.7 L520.7,383.4 L521.4,383.2 L522.1,383.0 L522.8,382.8 L523.5,382.6 L524.1,382.4 L524.8,382.2M529.1,380.8 L530.0,380.5 L530.9,380.2M535.1,378.7 L535.8,378.5 L536.4,378.2 L537.1,378.0 L537.8,377.8 L538.4,377.5 L539.1,377.3 L539.7,377.0 L540.4,376.8 L541.0,376.5 L541.7,376.3 L542.3,376.0 L543.0,375.7 L543.6,375.5 L544.3,375.2 L544.9,375.0 L545.6,374.7 L546.2,374.4 L546.8,374.1M550.8,372.4 L551.6,372.0 L552.4,371.6M556.2,369.6 L556.8,369.3 L557.3,369.0 L557.9,368.6 L558.5,368.3 L559.0,368.0 L559.6,367.6 L560.2,367.3 L560.7,366.9 L561.2,366.6 L561.8,366.2 L562.3,365.9 L562.8,365.5 L563.4,365.1 L563.9,364.7 L564.4,364.4 L564.9,364.0 L565.4,363.6 L565.9,363.2M568.7,360.7 L569.3,360.1 L569.9,359.5M572.3,356.8 L572.7,356.3 L573.0,355.9 L573.4,355.4 L573.7,355.0 L574.0,354.5 L574.4,354.0 L574.7,353.6 L575.0,353.1 L575.3,352.6 L575.6,352.2 L575.9,351.7 L576.1,351.2 L576.4,350.7 L576.7,350.3 L576.9,349.8 L577.2,349.3 L577.4,348.8 L577.6,348.3M579.0,345.3 L579.2,344.6 L579.5,343.9M580.6,340.8 L580.7,340.3 L580.9,339.8 L581.0,339.3 L581.1,338.8 L581.3,338.3 L581.4,337.8 L581.5,337.3 L581.7,336.8 L581.8,336.3 L581.9,335.8 L582.0,335.3 L582.2,334.8 L582.3,334.3 L582.4,333.7 L582.5,333.2 L582.6,332.7 L582.7,332.2 L582.8,331.7M583.4,328.5 L583.5,327.9 L583.6,327.2M584.1,324.0 L584.1,323.5 L584.2,323.0 L584.3,322.4 L584.3,321.9 L584.3,321.4 L584.3,320.9 L584.3,320.4 L584.3,319.9 L584.3,319.4 L584.3,318.9 L584.3,318.4 L584.3,317.8 L584.3,317.3 L584.3,316.8 L584.3,316.3 L584.3,315.8 L584.3,315.3 L584.3,314.8M584.3,311.6 L584.3,310.9 L584.3,310.2M584.3,307.0 L584.3,306.5 L584.3,306.0 L584.3,305.4 L584.3,304.9 L584.3,304.4 L584.3,303.9 L584.3,303.4 L584.3,302.9 L584.3,302.4 L584.3,301.9 L584.3,301.4 L584.3,300.8 L584.3,300.3 L584.3,299.8 L584.3,299.3 L584.3,298.8 L584.3,298.3 L584.3,297.8M584.3,294.6 L584.3,293.9 L584.3,293.2M584.3,290.0 L584.3,289.5 L584.3,289.0 L584.3,288.4 L584.3,287.9 L584.3,287.4 L584.3,286.9 L584.3,286.4 L584.3,285.9 L584.3,285.4 L584.3,284.9 L584.3,284.4 L584.3,283.8 L584.3,283.3 L584.3,282.8 L584.3,282.3 L584.3,281.8 L584.3,281.3 L584.3,280.8M584.3,277.6 L584.3,276.9 L584.3,276.2M584.3,273.0 L584.3,272.5 L584.3,271.9 L584.3,271.4 L584.3,270.9 L584.3,270.3 L584.3,269.8 L584.3,269.3 L584.3,268.8 L584.3,268.2 L584.3,267.7 L584.3,267.2 L584.3,266.6 L584.3,266.1 L584.3,265.6 L584.3,265.1 L584.3,264.5 L584.3,264.0" fill="none" stroke="#00ff00" stroke-width="1.5" stroke-linejoin="round"/>
<path d="M342.1,446.6 L342.4,445.9 L343.1,445.4M346.8,444.2 L347.7,443.9 L348.7,443.7M352.7,443.0 L353.7,442.8 L354.7,442.7M358.7,442.1 L359.7,441.9 L360.7,441.8M364.8,441.2 L365.8,441.1 L366.8,441.0M370.8,440.5 L371.8,440.4 L372.9,440.2M376.9,439.8 L377.9,439.7 L378.9,439.5M383.0,439.1 L384.0,439.0 L385.0,438.9M389.1,438.4 L390.1,438.3 L391.1,438.2M395.2,437.7 L396.2,437.6 L397.2,437.5M401.3,437.1 L402.3,436.9 L403.3,436.8M407.4,436.4 L408.4,436.3 L409.4,436.2M413.5,435.7 L414.5,435.6 L415.5,435.5M419.6,435.0 L420.6,434.9 L421.6,434.8M425.7,434.3 L426.7,434.2 L427.7,434.1M431.8,433.6 L432.8,433.5 L433.8,433.3M437.8,432.8 L438.8,432.7 L439.9,432.6M443.9,432.1 L444.9,432.0 L445.9,431.8M450.0,431.3 L451.0,431.2 L452.0,431.1M456.0,430.5 L457.1,430.4 L458.1,430.3M462.1,429.7 L463.1,429.6 L464.1,429.4M468.2,428.9 L469.2,428.7 L470.2,428.6M474.2,428.0 L475.2,427.9 L476.2,427.7M480.2,427.1 L481.2,426.9 L482.2,426.8M486.3,426.2 L487.3,426.0 L488.3,425.9M492.3,425.2 L493.3,425.0 L494.3,424.9M498.3,424.2 L499.3,424.0 L500.3,423.9M504.2,423.2 L505.2,423.0 L506.2,422.8M510.2,422.1 L511.2,421.9 L512.2,421.7M516.2,420.9 L517.1,420.7 L518.1,420.5M522.1,419.7 L523.0,419.5 L524.0,419.3M527.9,418.4 L528.9,418.2 L529.9,418.0M533.8,417.1 L534.8,416.8 L535.7,416.6M539.6,415.6 L540.5,415.4 L541.5,415.1M545.3,414.0 L546.3,413.8 L547.2,413.5M550.9,412.3 L551.9,412.0 L552.8,411.7M556.5,410.4 L557.4,410.1 L558.3,409.7M561.8,408.3 L562.6,407.9 L563.5,407.5M566.8,405.9 L567.6,405.4 L568.4,405.0M571.4,403.0 L572.1,402.5 L572.8,402.0M575.3,399.8 L575.9,399.2 L576.5,398.6M578.4,396.2 L578.8,395.5 L579.2,394.9M580.6,392.2 L580.9,391.6 L581.1,390.9M582.0,388.2 L582.2,387.5 L582.3,386.8M582.9,384.0 L583.0,383.3 L583.1,382.6M583.4,379.8 L583.5,379.1 L583.6,378.4M583.8,375.6 L583.8,374.9 L583.9,374.2M584.0,371.4 L584.0,370.7 L584.0,370.0M584.1,367.2 L584.2,366.5 L584.2,365.8M584.2,363.0 L584.2,362.3 L584.2,361.6M584.3,358.8 L584.3,358.1 L584.3,357.4M584.3,354.6 L584.3,353.9 L584.3,353.2M584.3,350.4 L584.3,349.7 L584.3,349.0M584.3,346.2 L584.3,345.5 L584.3,344.8M584.3,342.0 L584.3,341.3 L584.3,340.6M584.3,337.8 L584.3,337.1 L584.3,336.4M584.3,333.6 L584.3,332.9 L584.3,332.2" fill="none" stroke="#0000ff" stroke-width="1.5" stroke-linejoin="round"/>
<line x1="51.47" y1="11.80" x2="92.50" y2="11.80" stroke="#000" stroke-width="1.5" />
<line x1="51.47" y1="29.80" x2="92.50" y2="29.80" stroke="#ff0000" stroke-width="1.5" stroke-dasharray="11.18 7.50"/>
<line x1="51.47" y1="47.80" x2="92.50" y2="47.80" stroke="#00ff00" stroke-width="1.5" stroke-dasharray="9.71 3.38 2.06 3.53"/>
<line x1="51.47" y1="65.50" x2="92.50" y2="65.50" stroke="#0000ff" stroke-width="1.5" stroke-dasharray="1.91 3.31"/>
<line x1="346.03" y1="11.80" x2="387.06" y2="11.80" stroke="#000" stroke-width="1.5" />
<line x1="346.03" y1="29.80" x2="387.06" y2="29.80" stroke="#ff0000" stroke-width="1.5" stroke-dasharray="11.18 7.50"/>
<line x1="346.03" y1="47.80" x2="387.06" y2="47.80" stroke="#00ff00" stroke-width="1.5" stroke-dasharray="9.71 3.38 2.06 3.53"/>
<line x1="346.03" y1="65.50" x2="387.06" y2="65.50" stroke="#0000ff" stroke-width="1.5" stroke-dasharray="1.91 3.31"/>
<line x1="51.47" y1="245.80" x2="92.50" y2="245.80" stroke="#000" stroke-width="1.5" />
<line x1="51.47" y1="263.80" x2="92.50" y2="263.80" stroke="#ff0000" stroke-width="1.5" stroke-dasharray="11.18 7.50"/>
<line x1="51.47" y1="281.80" x2="92.50" y2="281.80" stroke="#00ff00" stroke-width="1.5" stroke-dasharray="9.71 3.38 2.06 3.53"/>
<line x1="51.47" y1="299.50" x2="92.50" y2="299.50" stroke="#0000ff" stroke-width="1.5" stroke-dasharray="1.91 3.31"/>
<line x1="346.03" y1="245.80" x2="387.06" y2="245.80" stroke="#000" stroke-width="1.5" />
<line x1="346.03" y1="263.80" x2="387.06" y2="263.80" stroke="#ff0000" stroke-width="1.5" stroke-dasharray="11.18 7.50"/>
<line x1="346.03" y1="281.80" x2="387.06" y2="281.80" stroke="#00ff00" stroke-width="1.5" stroke-dasharray="9.71 3.38 2.06 3.53"/>
<line x1="346.03" y1="299.50" x2="387.06" y2="299.50" stroke="#0000ff" stroke-width="1.5" stroke-dasharray="1.91 3.31"/>
</g>
<g filter="url(#nf)">
<text x="64.60" y="14.60" textLength="5.10" lengthAdjust="spacingAndGlyphs" font-family="Liberation Sans" font-size="11.6" font-weight="bold" font-style="italic" stroke="#000" stroke-width="0.65">V</text>
<text x="69.70" y="18.90" textLength="2.80" lengthAdjust="spacingAndGlyphs" font-family="Liberation Sans" font-size="8.6" font-weight="bold" font-style="normal" stroke="#000" stroke-width="0.45">s</text>
<text x="72.60" y="14.60" textLength="4.40" lengthAdjust="spacingAndGlyphs" font-family="Liberation Sans" font-size="11.6" font-weight="bold" font-style="normal" stroke="#000" stroke-width="0.65">=</text>
<text x="77.30" y="14.60" textLength="14.20" lengthAdjust="spacingAndGlyphs" font-family="Liberation Sans" font-size="11.6" font-weight="bold" font-style="normal" stroke="#000" stroke-width="0.65">0.95</text>
<text x="91.60" y="14.60" textLength="5.40" lengthAdjust="spacingAndGlyphs" font-family="Liberation Sans" font-size="11.6" font-weight="bold" font-style="italic" stroke="#000" stroke-width="0.65">V</text>
<text x="97.20" y="18.90" textLength="10.70" lengthAdjust="spacingAndGlyphs" font-family="Liberation Sans" font-size="8.6" font-weight="bold" font-style="normal" stroke="#000" stroke-width="0.45">crit</text>
<text x="107.80" y="14.60" textLength="2.50" lengthAdjust="spacingAndGlyphs" font-family="Liberation Sans" font-size="11.6" font-weight="bold" font-style="normal" stroke="#000" stroke-width="0.65">;</text>
<text x="112.40" y="14.60" textLength="37.40" lengthAdjust="spacingAndGlyphs" font-family="Liberation Sans" font-size="11.6" font-weight="bold" font-style="italic" stroke="#000" stroke-width="0.65">XH=0.9XH</text>
<text x="150.20" y="18.90" textLength="2.60" lengthAdjust="spacingAndGlyphs" font-family="Liberation Sans" font-size="8.6" font-weight="bold" font-style="normal" stroke="#000" stroke-width="0.3">i</text>
<text x="64.60" y="32.60" textLength="5.10" lengthAdjust="spacingAndGlyphs" font-family="Liberation Sans" font-size="11.6" font-weight="bold" font-style="italic" stroke="#000" stroke-width="0.65">V</text>
<text x="69.70" y="36.90" textLength="2.80" lengthAdjust="spacingAndGlyphs" font-family="Liberation Sans" font-size="8.6" font-weight="bold" font-style="normal" stroke="#000" stroke-width="0.45">s</text>
<text x="72.60" y="32.60" textLength="4.40" lengthAdjust="spacingAndGlyphs" font-family="Liberation Sans" font-size="11.6" font-weight="bold" font-style="normal" stroke="#000" stroke-width="0.65">=</text>
<text x="77.30" y="32.60" textLength="14.20" lengthAdjust="spacingAndGlyphs" font-family="Liberation Sans" font-size="11.6" font-weight="bold" font-style="normal" stroke="#000" stroke-width="0.65">0.95</text>
<text x="91.60" y="32.60" textLength="5.40" lengthAdjust="spacingAndGlyphs" font-family="Liberation Sans" font-size="11.6" font-weight="bold" font-style="italic" stroke="#000" stroke-width="0.65">V</text>
<text x="97.20" y="36.90" textLength="10.70" lengthAdjust="spacingAndGlyphs" font-family="Liberation Sans" font-size="8.6" font-weight="bold" font-style="normal" stroke="#000" stroke-width="0.45">crit</text>
<text x="107.80" y="32.60" textLength="2.50" lengthAdjust="spacingAndGlyphs" font-family="Liberation Sans" font-size="11.6" font-weight="bold" font-style="normal" stroke="#000" stroke-width="0.65">;</text>
<text x="112.40" y="32.60" textLength="37.40" lengthAdjust="spacingAndGlyphs" font-family="Liberation Sans" font-size="11.6" font-weight="bold" font-style="italic" stroke="#000" stroke-width="0.65">XH=0.1XH</text>
<text x="150.20" y="36.90" textLength="2.60" lengthAdjust="spacingAndGlyphs" font-family="Liberation Sans" font-size="8.6" font-weight="bold" font-style="normal" stroke="#000" stroke-width="0.3">i</text>
<text x="64.60" y="50.60" textLength="5.10" lengthAdjust="spacingAndGlyphs" font-family="Liberation Sans" font-size="11.6" font-weight="bold" font-style="italic" stroke="#000" stroke-width="0.65">V</text>
<text x="69.70" y="54.90" textLength="2.80" lengthAdjust="spacingAndGlyphs" font-family="Liberation Sans" font-size="8.6" font-weight="bold" font-style="normal" stroke="#000" stroke-width="0.45">s</text>
<text x="72.60" y="50.60" textLength="4.40" lengthAdjust="spacingAndGlyphs" font-family="Liberation Sans" font-size="11.6" font-weight="bold" font-style="normal" stroke="#000" stroke-width="0.65">=</text>
<text x="77.30" y="50.60" textLength="14.20" lengthAdjust="spacingAndGlyphs" font-family="Liberation Sans" font-size="11.6" font-weight="bold" font-style="normal" stroke="#000" stroke-width="0.65">0.85</text>
<text x="91.60" y="50.60" textLength="5.40" lengthAdjust="spacingAndGlyphs" font-family="Liberation Sans" font-size="11.6" font-weight="bold" font-style="italic" stroke="#000" stroke-width="0.65">V</text>
<text x="97.20" y="54.90" textLength="10.70" lengthAdjust="spacingAndGlyphs" font-family="Liberation Sans" font-size="8.6" font-weight="bold" font-style="normal" stroke="#000" stroke-width="0.45">crit</text>
<text x="107.80" y="50.60" textLength="2.50" lengthAdjust="spacingAndGlyphs" font-family="Liberation Sans" font-size="11.6" font-weight="bold" font-style="normal" stroke="#000" stroke-width="0.65">;</text>
<text x="112.40" y="50.60" textLength="37.40" lengthAdjust="spacingAndGlyphs" font-family="Liberation Sans" font-size="11.6" font-weight="bold" font-style="italic" stroke="#000" stroke-width="0.65">XH=0.9XH</text>
<text x="150.20" y="54.90" textLength="2.60" lengthAdjust="spacingAndGlyphs" font-family="Liberation Sans" font-size="8.6" font-weight="bold" font-style="normal" stroke="#000" stroke-width="0.3">i</text>
<text x="64.60" y="68.60" textLength="5.10" lengthAdjust="spacingAndGlyphs" font-family="Liberation Sans" font-size="11.6" font-weight="bold" font-style="italic" stroke="#000" stroke-width="0.65">V</text>
<text x="69.70" y="72.90" textLength="2.80" lengthAdjust="spacingAndGlyphs" font-family="Liberation Sans" font-size="8.6" font-weight="bold" font-style="normal" stroke="#000" stroke-width="0.45">s</text>
<text x="72.60" y="68.60" textLength="4.40" lengthAdjust="spacingAndGlyphs" font-family="Liberation Sans" font-size="11.6" font-weight="bold" font-style="normal" stroke="#000" stroke-width="0.65">=</text>
<text x="77.30" y="68.60" textLength="14.20" lengthAdjust="spacingAndGlyphs" font-family="Liberation Sans" font-size="11.6" font-weight="bold" font-style="normal" stroke="#000" stroke-width="0.65">0.85</text>
<text x="91.60" y="68.60" textLength="5.40" lengthAdjust="spacingAndGlyphs" font-family="Liberation Sans" font-size="11.6" font-weight="bold" font-style="italic" stroke="#000" stroke-width="0.65">V</text>
<text x="97.20" y="72.90" textLength="10.70" lengthAdjust="spacingAndGlyphs" font-family="Liberation Sans" font-size="8.6" font-weight="bold" font-style="normal" stroke="#000" stroke-width="0.45">crit</text>
<text x="107.80" y="68.60" textLength="2.50" lengthAdjust="spacingAndGlyphs" font-family="Liberation Sans" font-size="11.6" font-weight="bold" font-style="normal" stroke="#000" stroke-width="0.65">;</text>
<text x="112.40" y="68.60" textLength="37.40" lengthAdjust="spacingAndGlyphs" font-family="Liberation Sans" font-size="11.6" font-weight="bold" font-style="italic" stroke="#000" stroke-width="0.65">XH=0.1XH</text>
<text x="150.20" y="72.90" textLength="2.60" lengthAdjust="spacingAndGlyphs" font-family="Liberation Sans" font-size="8.6" font-weight="bold" font-style="normal" stroke="#000" stroke-width="0.3">i</text>
<text x="264.90" y="14.60" textLength="5.10" lengthAdjust="spacingAndGlyphs" font-family="Liberation Sans" font-size="11.6" font-weight="bold" font-style="italic" stroke="#000" stroke-width="0.65">V</text>
<text x="270.00" y="18.90" textLength="2.80" lengthAdjust="spacingAndGlyphs" font-family="Liberation Sans" font-size="8.6" font-weight="bold" font-style="normal" stroke="#000" stroke-width="0.45">s</text>
<text x="272.90" y="14.60" textLength="4.40" lengthAdjust="spacingAndGlyphs" font-family="Liberation Sans" font-size="11.6" font-weight="bold" font-style="normal" stroke="#000" stroke-width="0.65">=</text>
<text x="277.60" y="14.60" textLength="14.20" lengthAdjust="spacingAndGlyphs" font-family="Liberation Sans" font-size="11.6" font-weight="bold" font-style="normal" stroke="#000" stroke-width="0.65">0.95</text>
<text x="291.90" y="14.60" textLength="5.40" lengthAdjust="spacingAndGlyphs" font-family="Liberation Sans" font-size="11.6" font-weight="bold" font-style="italic" stroke="#000" stroke-width="0.65">V</text>
<text x="297.50" y="18.90" textLength="10.70" lengthAdjust="spacingAndGlyphs" font-family="Liberation Sans" font-size="8.6" font-weight="bold" font-style="normal" stroke="#000" stroke-width="0.45">crit</text>
<text x="308.10" y="14.60" textLength="2.50" lengthAdjust="spacingAndGlyphs" font-family="Liberation Sans" font-size="11.6" font-weight="bold" font-style="normal" stroke="#000" stroke-width="0.65">;</text>
<text x="312.70" y="14.60" textLength="37.40" lengthAdjust="spacingAndGlyphs" font-family="Liberation Sans" font-size="11.6" font-weight="bold" font-style="italic" stroke="#000" stroke-width="0.65">XH=0.9XH</text>
<text x="350.50" y="18.90" textLength="2.60" lengthAdjust="spacingAndGlyphs" font-family="Liberation Sans" font-size="8.6" font-weight="bold" font-style="normal" stroke="#000" stroke-width="0.3">i</text>
<text x="264.90" y="32.60" textLength="5.10" lengthAdjust="spacingAndGlyphs" font-family="Liberation Sans" font-size="11.6" font-weight="bold" font-style="italic" stroke="#000" stroke-width="0.65">V</text>
<text x="270.00" y="36.90" textLength="2.80" lengthAdjust="spacingAndGlyphs" font-family="Liberation Sans" font-size="8.6" font-weight="bold" font-style="normal" stroke="#000" stroke-width="0.45">s</text>
<text x="272.90" y="32.60" textLength="4.40" lengthAdjust="spacingAndGlyphs" font-family="Liberation Sans" font-size="11.6" font-weight="bold" font-style="normal" stroke="#000" stroke-width="0.65">=</text>
<text x="277.60" y="32.60" textLength="14.20" lengthAdjust="spacingAndGlyphs" font-family="Liberation Sans" font-size="11.6" font-weight="bold" font-style="normal" stroke="#000" stroke-width="0.65">0.95</text>
<text x="291.90" y="32.60" textLength="5.40" lengthAdjust="spacingAndGlyphs" font-family="Liberation Sans" font-size="11.6" font-weight="bold" font-style="italic" stroke="#000" stroke-width="0.65">V</text>
<text x="297.50" y="36.90" textLength="10.70" lengthAdjust="spacingAndGlyphs" font-family="Liberation Sans" font-size="8.6" font-weight="bold" font-style="normal" stroke="#000" stroke-width="0.45">crit</text>
<text x="308.10" y="32.60" textLength="2.50" lengthAdjust="spacingAndGlyphs" font-family="Liberation Sans" font-size="11.6" font-weight="bold" font-style="normal" stroke="#000" stroke-width="0.65">;</text>
<text x="312.70" y="32.60" textLength="37.40" lengthAdjust="spacingAndGlyphs" font-family="Liberation Sans" font-size="11.6" font-weight="bold" font-style="italic" stroke="#000" stroke-width="0.65">XH=0.1XH</text>
<text x="350.50" y="36.90" textLength="2.60" lengthAdjust="spacingAndGlyphs" font-family="Liberation Sans" font-size="8.6" font-weight="bold" font-style="normal" stroke="#000" stroke-width="0.3">i</text>
<text x="264.90" y="50.60" textLength="5.10" lengthAdjust="spacingAndGlyphs" font-family="Liberation Sans" font-size="11.6" font-weight="bold" font-style="italic" stroke="#000" stroke-width="0.65">V</text>
<text x="270.00" y="54.90" textLength="2.80" lengthAdjust="spacingAndGlyphs" font-family="Liberation Sans" font-size="8.6" font-weight="bold" font-style="normal" stroke="#000" stroke-width="0.45">s</text>
<text x="272.90" y="50.60" textLength="4.40" lengthAdjust="spacingAndGlyphs" font-family="Liberation Sans" font-size="11.6" font-weight="bold" font-style="normal" stroke="#000" stroke-width="0.65">=</text>
<text x="277.60" y="50.60" textLength="14.20" lengthAdjust="spacingAndGlyphs" font-family="Liberation Sans" font-size="11.6" font-weight="bold" font-style="normal" stroke="#000" stroke-width="0.65">0.85</text>
<text x="291.90" y="50.60" textLength="5.40" lengthAdjust="spacingAndGlyphs" font-family="Liberation Sans" font-size="11.6" font-weight="bold" font-style="italic" stroke="#000" stroke-width="0.65">V</text>
<text x="297.50" y="54.90" textLength="10.70" lengthAdjust="spacingAndGlyphs" font-family="Liberation Sans" font-size="8.6" font-weight="bold" font-style="normal" stroke="#000" stroke-width="0.45">crit</text>
<text x="308.10" y="50.60" textLength="2.50" lengthAdjust="spacingAndGlyphs" font-family="Liberation Sans" font-size="11.6" font-weight="bold" font-style="normal" stroke="#000" stroke-width="0.65">;</text>
<text x="312.70" y="50.60" textLength="37.40" lengthAdjust="spacingAndGlyphs" font-family="Liberation Sans" font-size="11.6" font-weight="bold" font-style="italic" stroke="#000" stroke-width="0.65">XH=0.9XH</text>
<text x="350.50" y="54.90" textLength="2.60" lengthAdjust="spacingAndGlyphs" font-family="Liberation Sans" font-size="8.6" font-weight="bold" font-style="normal" stroke="#000" stroke-width="0.3">i</text>
<text x="264.90" y="68.60" textLength="5.10" lengthAdjust="spacingAndGlyphs" font-family="Liberation Sans" font-size="11.6" font-weight="bold" font-style="italic" stroke="#000" stroke-width="0.65">V</text>
<text x="270.00" y="72.90" textLength="2.80" lengthAdjust="spacingAndGlyphs" font-family="Liberation Sans" font-size="8.6" font-weight="bold" font-style="normal" stroke="#000" stroke-width="0.45">s</text>
<text x="272.90" y="68.60" textLength="4.40" lengthAdjust="spacingAndGlyphs" font-family="Liberation Sans" font-size="11.6" font-weight="bold" font-style="normal" stroke="#000" stroke-width="0.65">=</text>
<text x="277.60" y="68.60" textLength="14.20" lengthAdjust="spacingAndGlyphs" font-family="Liberation Sans" font-size="11.6" font-weight="bold" font-style="normal" stroke="#000" stroke-width="0.65">0.85</text>
<text x="291.90" y="68.60" textLength="5.40" lengthAdjust="spacingAndGlyphs" font-family="Liberation Sans" font-size="11.6" font-weight="bold" font-style="italic" stroke="#000" stroke-width="0.65">V</text>
<text x="297.50" y="72.90" textLength="10.70" lengthAdjust="spacingAndGlyphs" font-family="Liberation Sans" font-size="8.6" font-weight="bold" font-style="normal" stroke="#000" stroke-width="0.45">crit</text>
<text x="308.10" y="68.60" textLength="2.50" lengthAdjust="spacingAndGlyphs" font-family="Liberation Sans" font-size="11.6" font-weight="bold" font-style="normal" stroke="#000" stroke-width="0.65">;</text>
<text x="312.70" y="68.60" textLength="37.40" lengthAdjust="spacingAndGlyphs" font-family="Liberation Sans" font-size="11.6" font-weight="bold" font-style="italic" stroke="#000" stroke-width="0.65">XH=0.1XH</text>
<text x="350.50" y="72.90" textLength="2.60" lengthAdjust="spacingAndGlyphs" font-family="Liberation Sans" font-size="8.6" font-weight="bold" font-style="normal" stroke="#000" stroke-width="0.3">i</text>
<text x="64.60" y="248.60" textLength="5.10" lengthAdjust="spacingAndGlyphs" font-family="Liberation Sans" font-size="11.6" font-weight="bold" font-style="italic" stroke="#000" stroke-width="0.65">V</text>
<text x="69.70" y="252.90" textLength="2.80" lengthAdjust="spacingAndGlyphs" font-family="Liberation Sans" font-size="8.6" font-weight="bold" font-style="normal" stroke="#000" stroke-width="0.45">s</text>
<text x="72.60" y="248.60" textLength="4.40" lengthAdjust="spacingAndGlyphs" font-family="Liberation Sans" font-size="11.6" font-weight="bold" font-style="normal" stroke="#000" stroke-width="0.65">=</text>
<text x="77.30" y="248.60" textLength="14.20" lengthAdjust="spacingAndGlyphs" font-family="Liberation Sans" font-size="11.6" font-weight="bold" font-style="normal" stroke="#000" stroke-width="0.65">0.95</text>
<text x="91.60" y="248.60" textLength="5.40" lengthAdjust="spacingAndGlyphs" font-family="Liberation Sans" font-size="11.6" font-weight="bold" font-style="italic" stroke="#000" stroke-width="0.65">V</text>
<text x="97.20" y="252.90" textLength="10.70" lengthAdjust="spacingAndGlyphs" font-family="Liberation Sans" font-size="8.6" font-weight="bold" font-style="normal" stroke="#000" stroke-width="0.45">crit</text>
<text x="107.80" y="248.60" textLength="2.50" lengthAdjust="spacingAndGlyphs" font-family="Liberation Sans" font-size="11.6" font-weight="bold" font-style="normal" stroke="#000" stroke-width="0.65">;</text>
<text x="112.40" y="248.60" textLength="37.40" lengthAdjust="spacingAndGlyphs" font-family="Liberation Sans" font-size="11.6" font-weight="bold" font-style="italic" stroke="#000" stroke-width="0.65">XH=0.9XH</text>
<text x="150.20" y="252.90" textLength="2.60" lengthAdjust="spacingAndGlyphs" font-family="Liberation Sans" font-size="8.6" font-weight="bold" font-style="normal" stroke="#000" stroke-width="0.3">i</text>
<text x="64.60" y="266.60" textLength="5.10" lengthAdjust="spacingAndGlyphs" font-family="Liberation Sans" font-size="11.6" font-weight="bold" font-style="italic" stroke="#000" stroke-width="0.65">V</text>
<text x="69.70" y="270.90" textLength="2.80" lengthAdjust="spacingAndGlyphs" font-family="Liberation Sans" font-size="8.6" font-weight="bold" font-style="normal" stroke="#000" stroke-width="0.45">s</text>
<text x="72.60" y="266.60" textLength="4.40" lengthAdjust="spacingAndGlyphs" font-family="Liberation Sans" font-size="11.6" font-weight="bold" font-style="normal" stroke="#000" stroke-width="0.65">=</text>
<text x="77.30" y="266.60" textLength="14.20" lengthAdjust="spacingAndGlyphs" font-family="Liberation Sans" font-size="11.6" font-weight="bold" font-style="normal" stroke="#000" stroke-width="0.65">0.95</text>
<text x="91.60" y="266.60" textLength="5.40" lengthAdjust="spacingAndGlyphs" font-family="Liberation Sans" font-size="11.6" font-weight="bold" font-style="italic" stroke="#000" stroke-width="0.65">V</text>
<text x="97.20" y="270.90" textLength="10.70" lengthAdjust="spacingAndGlyphs" font-family="Liberation Sans" font-size="8.6" font-weight="bold" font-style="normal" stroke="#000" stroke-width="0.45">crit</text>
<text x="107.80" y="266.60" textLength="2.50" lengthAdjust="spacingAndGlyphs" font-family="Liberation Sans" font-size="11.6" font-weight="bold" font-style="normal" stroke="#000" stroke-width="0.65">;</text>
<text x="112.40" y="266.60" textLength="37.40" lengthAdjust="spacingAndGlyphs" font-family="Liberation Sans" font-size="11.6" font-weight="bold" font-style="italic" stroke="#000" stroke-width="0.65">XH=0.1XH</text>
<text x="150.20" y="270.90" textLength="2.60" lengthAdjust="spacingAndGlyphs" font-family="Liberation Sans" font-size="8.6" font-weight="bold" font-style="normal" stroke="#000" stroke-width="0.3">i</text>
<text x="64.60" y="284.60" textLength="5.10" lengthAdjust="spacingAndGlyphs" font-family="Liberation Sans" font-size="11.6" font-weight="bold" font-style="italic" stroke="#000" stroke-width="0.65">V</text>
<text x="69.70" y="288.90" textLength="2.80" lengthAdjust="spacingAndGlyphs" font-family="Liberation Sans" font-size="8.6" font-weight="bold" font-style="normal" stroke="#000" stroke-width="0.45">s</text>
<text x="72.60" y="284.60" textLength="4.40" lengthAdjust="spacingAndGlyphs" font-family="Liberation Sans" font-size="11.6" font-weight="bold" font-style="normal" stroke="#000" stroke-width="0.65">=</text>
<text x="77.30" y="284.60" textLength="14.20" lengthAdjust="spacingAndGlyphs" font-family="Liberation Sans" font-size="11.6" font-weight="bold" font-style="normal" stroke="#000" stroke-width="0.65">0.85</text>
<text x="91.60" y="284.60" textLength="5.40" lengthAdjust="spacingAndGlyphs" font-family="Liberation Sans" font-size="11.6" font-weight="bold" font-style="italic" stroke="#000" stroke-width="0.65">V</text>
<text x="97.20" y="288.90" textLength="10.70" lengthAdjust="spacingAndGlyphs" font-family="Liberation Sans" font-size="8.6" font-weight="bold" font-style="normal" stroke="#000" stroke-width="0.45">crit</text>
<text x="107.80" y="284.60" textLength="2.50" lengthAdjust="spacingAndGlyphs" font-family="Liberation Sans" font-size="11.6" font-weight="bold" font-style="normal" stroke="#000" stroke-width="0.65">;</text>
<text x="112.40" y="284.60" textLength="37.40" lengthAdjust="spacingAndGlyphs" font-family="Liberation Sans" font-size="11.6" font-weight="bold" font-style="italic" stroke="#000" stroke-width="0.65">XH=0.9XH</text>
<text x="150.20" y="288.90" textLength="2.60" lengthAdjust="spacingAndGlyphs" font-family="Liberation Sans" font-size="8.6" font-weight="bold" font-style="normal" stroke="#000" stroke-width="0.3">i</text>
<text x="64.60" y="302.60" textLength="5.10" lengthAdjust="spacingAndGlyphs" font-family="Liberation Sans" font-size="11.6" font-weight="bold" font-style="italic" stroke="#000" stroke-width="0.65">V</text>
<text x="69.70" y="306.90" textLength="2.80" lengthAdjust="spacingAndGlyphs" font-family="Liberation Sans" font-size="8.6" font-weight="bold" font-style="normal" stroke="#000" stroke-width="0.45">s</text>
<text x="72.60" y="302.60" textLength="4.40" lengthAdjust="spacingAndGlyphs" font-family="Liberation Sans" font-size="11.6" font-weight="bold" font-style="normal" stroke="#000" stroke-width="0.65">=</text>
<text x="77.30" y="302.60" textLength="14.20" lengthAdjust="spacingAndGlyphs" font-family="Liberation Sans" font-size="11.6" font-weight="bold" font-style="normal" stroke="#000" stroke-width="0.65">0.85</text>
<text x="91.60" y="302.60" textLength="5.40" lengthAdjust="spacingAndGlyphs" font-family="Liberation Sans" font-size="11.6" font-weight="bold" font-style="italic" stroke="#000" stroke-width="0.65">V</text>
<text x="97.20" y="306.90" textLength="10.70" lengthAdjust="spacingAndGlyphs" font-family="Liberation Sans" font-size="8.6" font-weight="bold" font-style="normal" stroke="#000" stroke-width="0.45">crit</text>
<text x="107.80" y="302.60" textLength="2.50" lengthAdjust="spacingAndGlyphs" font-family="Liberation Sans" font-size="11.6" font-weight="bold" font-style="normal" stroke="#000" stroke-width="0.65">;</text>
<text x="112.40" y="302.60" textLength="37.40" lengthAdjust="spacingAndGlyphs" font-family="Liberation Sans" font-size="11.6" font-weight="bold" font-style="italic" stroke="#000" stroke-width="0.65">XH=0.1XH</text>
<text x="150.20" y="306.90" textLength="2.60" lengthAdjust="spacingAndGlyphs" font-family="Liberation Sans" font-size="8.6" font-weight="bold" font-style="normal" stroke="#000" stroke-width="0.3">i</text>
<text x="264.90" y="248.60" textLength="5.10" lengthAdjust="spacingAndGlyphs" font-family="Liberation Sans" font-size="11.6" font-weight="bold" font-style="italic" stroke="#000" stroke-width="0.65">V</text>
<text x="270.00" y="252.90" textLength="2.80" lengthAdjust="spacingAndGlyphs" font-family="Liberation Sans" font-size="8.6" font-weight="bold" font-style="normal" stroke="#000" stroke-width="0.45">s</text>
<text x="272.90" y="248.60" textLength="4.40" lengthAdjust="spacingAndGlyphs" font-family="Liberation Sans" font-size="11.6" font-weight="bold" font-style="normal" stroke="#000" stroke-width="0.65">=</text>
<text x="277.60" y="248.60" textLength="14.20" lengthAdjust="spacingAndGlyphs" font-family="Liberation Sans" font-size="11.6" font-weight="bold" font-style="normal" stroke="#000" stroke-width="0.65">0.95</text>
<text x="291.90" y="248.60" textLength="5.40" lengthAdjust="spacingAndGlyphs" font-family="Liberation Sans" font-size="11.6" font-weight="bold" font-style="italic" stroke="#000" stroke-width="0.65">V</text>
<text x="297.50" y="252.90" textLength="10.70" lengthAdjust="spacingAndGlyphs" font-family="Liberation Sans" font-size="8.6" font-weight="bold" font-style="normal" stroke="#000" stroke-width="0.45">crit</text>
<text x="308.10" y="248.60" textLength="2.50" lengthAdjust="spacingAndGlyphs" font-family="Liberation Sans" font-size="11.6" font-weight="bold" font-style="normal" stroke="#000" stroke-width="0.65">;</text>
<text x="312.70" y="248.60" textLength="37.40" lengthAdjust="spacingAndGlyphs" font-family="Liberation Sans" font-size="11.6" font-weight="bold" font-style="italic" stroke="#000" stroke-width="0.65">XH=0.9XH</text>
<text x="350.50" y="252.90" textLength="2.60" lengthAdjust="spacingAndGlyphs" font-family="Liberation Sans" font-size="8.6" font-weight="bold" font-style="normal" stroke="#000" stroke-width="0.3">i</text>
<text x="264.90" y="266.60" textLength="5.10" lengthAdjust="spacingAndGlyphs" font-family="Liberation Sans" font-size="11.6" font-weight="bold" font-style="italic" stroke="#000" stroke-width="0.65">V</text>
<text x="270.00" y="270.90" textLength="2.80" lengthAdjust="spacingAndGlyphs" font-family="Liberation Sans" font-size="8.6" font-weight="bold" font-style="normal" stroke="#000" stroke-width="0.45">s</text>
<text x="272.90" y="266.60" textLength="4.40" lengthAdjust="spacingAndGlyphs" font-family="Liberation Sans" font-size="11.6" font-weight="bold" font-style="normal" stroke="#000" stroke-width="0.65">=</text>
<text x="277.60" y="266.60" textLength="14.20" lengthAdjust="spacingAndGlyphs" font-family="Liberation Sans" font-size="11.6" font-weight="bold" font-style="normal" stroke="#000" stroke-width="0.65">0.95</text>
<text x="291.90" y="266.60" textLength="5.40" lengthAdjust="spacingAndGlyphs" font-family="Liberation Sans" font-size="11.6" font-weight="bold" font-style="italic" stroke="#000" stroke-width="0.65">V</text>
<text x="297.50" y="270.90" textLength="10.70" lengthAdjust="spacingAndGlyphs" font-family="Liberation Sans" font-size="8.6" font-weight="bold" font-style="normal" stroke="#000" stroke-width="0.45">crit</text>
<text x="308.10" y="266.60" textLength="2.50" lengthAdjust="spacingAndGlyphs" font-family="Liberation Sans" font-size="11.6" font-weight="bold" font-style="normal" stroke="#000" stroke-width="0.65">;</text>
<text x="312.70" y="266.60" textLength="37.40" lengthAdjust="spacingAndGlyphs" font-family="Liberation Sans" font-size="11.6" font-weight="bold" font-style="italic" stroke="#000" stroke-width="0.65">XH=0.1XH</text>
<text x="350.50" y="270.90" textLength="2.60" lengthAdjust="spacingAndGlyphs" font-family="Liberation Sans" font-size="8.6" font-weight="bold" font-style="normal" stroke="#000" stroke-width="0.3">i</text>
<text x="264.90" y="284.60" textLength="5.10" lengthAdjust="spacingAndGlyphs" font-family="Liberation Sans" font-size="11.6" font-weight="bold" font-style="italic" stroke="#000" stroke-width="0.65">V</text>
<text x="270.00" y="288.90" textLength="2.80" lengthAdjust="spacingAndGlyphs" font-family="Liberation Sans" font-size="8.6" font-weight="bold" font-style="normal" stroke="#000" stroke-width="0.45">s</text>
<text x="272.90" y="284.60" textLength="4.40" lengthAdjust="spacingAndGlyphs" font-family="Liberation Sans" font-size="11.6" font-weight="bold" font-style="normal" stroke="#000" stroke-width="0.65">=</text>
<text x="277.60" y="284.60" textLength="14.20" lengthAdjust="spacingAndGlyphs" font-family="Liberation Sans" font-size="11.6" font-weight="bold" font-style="normal" stroke="#000" stroke-width="0.65">0.85</text>
<text x="291.90" y="284.60" textLength="5.40" lengthAdjust="spacingAndGlyphs" font-family="Liberation Sans" font-size="11.6" font-weight="bold" font-style="italic" stroke="#000" stroke-width="0.65">V</text>
<text x="297.50" y="288.90" textLength="10.70" lengthAdjust="spacingAndGlyphs" font-family="Liberation Sans" font-size="8.6" font-weight="bold" font-style="normal" stroke="#000" stroke-width="0.45">crit</text>
<text x="308.10" y="284.60" textLength="2.50" lengthAdjust="spacingAndGlyphs" font-family="Liberation Sans" font-size="11.6" font-weight="bold" font-style="normal" stroke="#000" stroke-width="0.65">;</text>
<text x="312.70" y="284.60" textLength="37.40" lengthAdjust="spacingAndGlyphs" font-family="Liberation Sans" font-size="11.6" font-weight="bold" font-style="italic" stroke="#000" stroke-width="0.65">XH=0.9XH</text>
<text x="350.50" y="288.90" textLength="2.60" lengthAdjust="spacingAndGlyphs" font-family="Liberation Sans" font-size="8.6" font-weight="bold" font-style="normal" stroke="#000" stroke-width="0.3">i</text>
<text x="264.90" y="302.60" textLength="5.10" lengthAdjust="spacingAndGlyphs" font-family="Liberation Sans" font-size="11.6" font-weight="bold" font-style="italic" stroke="#000" stroke-width="0.65">V</text>
<text x="270.00" y="306.90" textLength="2.80" lengthAdjust="spacingAndGlyphs" font-family="Liberation Sans" font-size="8.6" font-weight="bold" font-style="normal" stroke="#000" stroke-width="0.45">s</text>
<text x="272.90" y="302.60" textLength="4.40" lengthAdjust="spacingAndGlyphs" font-family="Liberation Sans" font-size="11.6" font-weight="bold" font-style="normal" stroke="#000" stroke-width="0.65">=</text>
<text x="277.60" y="302.60" textLength="14.20" lengthAdjust="spacingAndGlyphs" font-family="Liberation Sans" font-size="11.6" font-weight="bold" font-style="normal" stroke="#000" stroke-width="0.65">0.85</text>
<text x="291.90" y="302.60" textLength="5.40" lengthAdjust="spacingAndGlyphs" font-family="Liberation Sans" font-size="11.6" font-weight="bold" font-style="italic" stroke="#000" stroke-width="0.65">V</text>
<text x="297.50" y="306.90" textLength="10.70" lengthAdjust="spacingAndGlyphs" font-family="Liberation Sans" font-size="8.6" font-weight="bold" font-style="normal" stroke="#000" stroke-width="0.45">crit</text>
<text x="308.10" y="302.60" textLength="2.50" lengthAdjust="spacingAndGlyphs" font-family="Liberation Sans" font-size="11.6" font-weight="bold" font-style="normal" stroke="#000" stroke-width="0.65">;</text>
<text x="312.70" y="302.60" textLength="37.40" lengthAdjust="spacingAndGlyphs" font-family="Liberation Sans" font-size="11.6" font-weight="bold" font-style="italic" stroke="#000" stroke-width="0.65">XH=0.1XH</text>
<text x="350.50" y="306.90" textLength="2.60" lengthAdjust="spacingAndGlyphs" font-family="Liberation Sans" font-size="8.6" font-weight="bold" font-style="normal" stroke="#000" stroke-width="0.3">i</text>
<text x="29.65" y="230.10" textLength="5.10" lengthAdjust="spacingAndGlyphs" font-family="Liberation Sans" font-size="13.5" font-weight="normal" font-style="normal" stroke="#000" stroke-width="0.3">0</text>
<text x="69.97" y="230.10" textLength="5.10" lengthAdjust="spacingAndGlyphs" font-family="Liberation Sans" font-size="13.5" font-weight="normal" font-style="normal" stroke="#000" stroke-width="0.3">2</text>
<text x="110.29" y="230.10" textLength="5.10" lengthAdjust="spacingAndGlyphs" font-family="Liberation Sans" font-size="13.5" font-weight="normal" font-style="normal" stroke="#000" stroke-width="0.3">4</text>
<text x="150.61" y="230.10" textLength="5.10" lengthAdjust="spacingAndGlyphs" font-family="Liberation Sans" font-size="13.5" font-weight="normal" font-style="normal" stroke="#000" stroke-width="0.3">6</text>
<text x="190.93" y="230.10" textLength="5.10" lengthAdjust="spacingAndGlyphs" font-family="Liberation Sans" font-size="13.5" font-weight="normal" font-style="normal" stroke="#000" stroke-width="0.3">8</text>
<text x="230.25" y="230.10" textLength="5.10" lengthAdjust="spacingAndGlyphs" font-family="Liberation Sans" font-size="13.5" font-weight="normal" font-style="normal" stroke="#000" stroke-width="0.3">0</text>
<text x="312.65" y="230.10" textLength="5.10" lengthAdjust="spacingAndGlyphs" font-family="Liberation Sans" font-size="13.5" font-weight="normal" font-style="normal" stroke="#000" stroke-width="0.3">5</text>
<text x="392.50" y="230.10" textLength="10.20" lengthAdjust="spacingAndGlyphs" font-family="Liberation Sans" font-size="13.5" font-weight="normal" font-style="normal" stroke="#000" stroke-width="0.3">10</text>
<text x="29.65" y="464.10" textLength="5.10" lengthAdjust="spacingAndGlyphs" font-family="Liberation Sans" font-size="13.5" font-weight="normal" font-style="normal" stroke="#000" stroke-width="0.3">0</text>
<text x="86.35" y="464.10" textLength="5.10" lengthAdjust="spacingAndGlyphs" font-family="Liberation Sans" font-size="13.5" font-weight="normal" font-style="normal" stroke="#000" stroke-width="0.3">5</text>
<text x="140.50" y="464.10" textLength="10.20" lengthAdjust="spacingAndGlyphs" font-family="Liberation Sans" font-size="13.5" font-weight="normal" font-style="normal" stroke="#000" stroke-width="0.3">10</text>
<text x="197.20" y="464.10" textLength="10.20" lengthAdjust="spacingAndGlyphs" font-family="Liberation Sans" font-size="13.5" font-weight="normal" font-style="normal" stroke="#000" stroke-width="0.3">15</text>
<text x="230.25" y="464.10" textLength="5.10" lengthAdjust="spacingAndGlyphs" font-family="Liberation Sans" font-size="13.5" font-weight="normal" font-style="normal" stroke="#000" stroke-width="0.3">0</text>
<text x="271.42" y="464.10" textLength="5.10" lengthAdjust="spacingAndGlyphs" font-family="Liberation Sans" font-size="13.5" font-weight="normal" font-style="normal" stroke="#000" stroke-width="0.3">5</text>
<text x="310.05" y="464.10" textLength="10.20" lengthAdjust="spacingAndGlyphs" font-family="Liberation Sans" font-size="13.5" font-weight="normal" font-style="normal" stroke="#000" stroke-width="0.3">10</text>
<text x="351.22" y="464.10" textLength="10.20" lengthAdjust="spacingAndGlyphs" font-family="Liberation Sans" font-size="13.5" font-weight="normal" font-style="normal" stroke="#000" stroke-width="0.3">15</text>
<text x="392.40" y="464.10" textLength="10.20" lengthAdjust="spacingAndGlyphs" font-family="Liberation Sans" font-size="13.5" font-weight="normal" font-style="normal" stroke="#000" stroke-width="0.3">20</text>
<text transform="translate(26.30,217.22) rotate(-90)" x="0" y="0" textLength="9.25" lengthAdjust="spacingAndGlyphs" font-family="Liberation Sans" font-size="9.9" font-weight="normal" font-style="normal" stroke="#000" stroke-width="0.12">0</text>
<text transform="translate(26.30,160.53) rotate(-90)" x="0" y="0" textLength="25.85" lengthAdjust="spacingAndGlyphs" font-family="Liberation Sans" font-size="9.9" font-weight="normal" font-style="normal" stroke="#000" stroke-width="0.12">200</text>
<text transform="translate(26.30,95.52) rotate(-90)" x="0" y="0" textLength="25.85" lengthAdjust="spacingAndGlyphs" font-family="Liberation Sans" font-size="9.9" font-weight="normal" font-style="normal" stroke="#000" stroke-width="0.12">400</text>
<text transform="translate(26.30,30.52) rotate(-90)" x="0" y="0" textLength="25.85" lengthAdjust="spacingAndGlyphs" font-family="Liberation Sans" font-size="9.9" font-weight="normal" font-style="normal" stroke="#000" stroke-width="0.12">600</text>
<text transform="translate(226.90,217.22) rotate(-90)" x="0" y="0" textLength="9.25" lengthAdjust="spacingAndGlyphs" font-family="Liberation Sans" font-size="9.9" font-weight="normal" font-style="normal" stroke="#000" stroke-width="0.12">0</text>
<text transform="translate(226.90,160.53) rotate(-90)" x="0" y="0" textLength="25.85" lengthAdjust="spacingAndGlyphs" font-family="Liberation Sans" font-size="9.9" font-weight="normal" font-style="normal" stroke="#000" stroke-width="0.12">200</text>
<text transform="translate(226.90,95.52) rotate(-90)" x="0" y="0" textLength="25.85" lengthAdjust="spacingAndGlyphs" font-family="Liberation Sans" font-size="9.9" font-weight="normal" font-style="normal" stroke="#000" stroke-width="0.12">400</text>
<text transform="translate(226.90,30.52) rotate(-90)" x="0" y="0" textLength="25.85" lengthAdjust="spacingAndGlyphs" font-family="Liberation Sans" font-size="9.9" font-weight="normal" font-style="normal" stroke="#000" stroke-width="0.12">600</text>
<text transform="translate(26.30,451.23) rotate(-90)" x="0" y="0" textLength="9.25" lengthAdjust="spacingAndGlyphs" font-family="Liberation Sans" font-size="9.9" font-weight="normal" font-style="normal" stroke="#000" stroke-width="0.12">0</text>
<text transform="translate(26.30,394.53) rotate(-90)" x="0" y="0" textLength="25.85" lengthAdjust="spacingAndGlyphs" font-family="Liberation Sans" font-size="9.9" font-weight="normal" font-style="normal" stroke="#000" stroke-width="0.12">200</text>
<text transform="translate(26.30,329.53) rotate(-90)" x="0" y="0" textLength="25.85" lengthAdjust="spacingAndGlyphs" font-family="Liberation Sans" font-size="9.9" font-weight="normal" font-style="normal" stroke="#000" stroke-width="0.12">400</text>
<text transform="translate(26.30,264.53) rotate(-90)" x="0" y="0" textLength="25.85" lengthAdjust="spacingAndGlyphs" font-family="Liberation Sans" font-size="9.9" font-weight="normal" font-style="normal" stroke="#000" stroke-width="0.12">600</text>
<text transform="translate(226.90,451.23) rotate(-90)" x="0" y="0" textLength="9.25" lengthAdjust="spacingAndGlyphs" font-family="Liberation Sans" font-size="9.9" font-weight="normal" font-style="normal" stroke="#000" stroke-width="0.12">0</text>
<text transform="translate(226.90,394.53) rotate(-90)" x="0" y="0" textLength="25.85" lengthAdjust="spacingAndGlyphs" font-family="Liberation Sans" font-size="9.9" font-weight="normal" font-style="normal" stroke="#000" stroke-width="0.12">200</text>
<text transform="translate(226.90,329.53) rotate(-90)" x="0" y="0" textLength="25.85" lengthAdjust="spacingAndGlyphs" font-family="Liberation Sans" font-size="9.9" font-weight="normal" font-style="normal" stroke="#000" stroke-width="0.12">400</text>
<text transform="translate(226.90,264.53) rotate(-90)" x="0" y="0" textLength="25.85" lengthAdjust="spacingAndGlyphs" font-family="Liberation Sans" font-size="9.9" font-weight="normal" font-style="normal" stroke="#000" stroke-width="0.12">600</text>
<text x="186.00" y="202.80" textLength="12.20" lengthAdjust="spacingAndGlyphs" font-family="Liberation Sans" font-size="13.6" font-weight="normal" font-style="normal" stroke="#000" stroke-width="0.35">8M</text>
<ellipse cx="201.20" cy="203.70" rx="2.30" ry="3.10" fill="none" stroke="#000" stroke-width="1.1"/>
<rect x="200.55" y="203.00" width="1.3" height="1.4" fill="#000"/>
<text x="387.70" y="202.60" textLength="16.50" lengthAdjust="spacingAndGlyphs" font-family="Liberation Sans" font-size="13.6" font-weight="normal" font-style="normal" stroke="#000" stroke-width="0.35">10M</text>
<ellipse cx="407.30" cy="203.70" rx="2.30" ry="3.10" fill="none" stroke="#000" stroke-width="1.1"/>
<rect x="406.65" y="203.00" width="1.3" height="1.4" fill="#000"/>
<text x="186.50" y="436.60" textLength="16.60" lengthAdjust="spacingAndGlyphs" font-family="Liberation Sans" font-size="13.6" font-weight="normal" font-style="normal" stroke="#000" stroke-width="0.35">15M</text>
<ellipse cx="206.30" cy="437.90" rx="2.30" ry="3.10" fill="none" stroke="#000" stroke-width="1.1"/>
<rect x="205.65" y="437.20" width="1.3" height="1.4" fill="#000"/>
<text x="386.70" y="436.80" textLength="17.50" lengthAdjust="spacingAndGlyphs" font-family="Liberation Sans" font-size="13.6" font-weight="normal" font-style="normal" stroke="#000" stroke-width="0.35">20M</text>
<ellipse cx="407.50" cy="437.90" rx="2.30" ry="3.10" fill="none" stroke="#000" stroke-width="1.1"/>
<rect x="406.85" y="437.20" width="1.3" height="1.4" fill="#000"/>
<text x="104.20" y="477.30" textLength="9.20" lengthAdjust="spacingAndGlyphs" font-family="Liberation Serif" font-size="17.4" font-weight="bold" font-style="italic">M</text>
<text x="113.40" y="482.30" textLength="4.80" lengthAdjust="spacingAndGlyphs" font-family="Liberation Serif" font-size="13.2" font-weight="bold" font-style="normal">r</text>
<text x="124.60" y="477.00" textLength="3.60" lengthAdjust="spacingAndGlyphs" font-family="Liberation Serif" font-size="17.5" font-weight="bold" font-style="normal">(</text>
<text x="128.20" y="477.30" textLength="8.60" lengthAdjust="spacingAndGlyphs" font-family="Liberation Serif" font-size="17.4" font-weight="bold" font-style="normal">M</text>
<ellipse cx="140.20" cy="479.0" rx="2.8" ry="3.5" fill="none" stroke="#000" stroke-width="1.05"/>
<rect x="139.55" y="478.3" width="1.3" height="1.4" fill="#000"/>
<text x="143.90" y="477.00" textLength="3.60" lengthAdjust="spacingAndGlyphs" font-family="Liberation Serif" font-size="17.5" font-weight="bold" font-style="normal">)</text>
<text x="304.50" y="477.30" textLength="9.20" lengthAdjust="spacingAndGlyphs" font-family="Liberation Serif" font-size="17.4" font-weight="bold" font-style="italic">M</text>
<text x="313.70" y="482.30" textLength="4.80" lengthAdjust="spacingAndGlyphs" font-family="Liberation Serif" font-size="13.2" font-weight="bold" font-style="normal">r</text>
<text x="324.90" y="477.00" textLength="3.60" lengthAdjust="spacingAndGlyphs" font-family="Liberation Serif" font-size="17.5" font-weight="bold" font-style="normal">(</text>
<text x="328.50" y="477.30" textLength="8.60" lengthAdjust="spacingAndGlyphs" font-family="Liberation Serif" font-size="17.4" font-weight="bold" font-style="normal">M</text>
<ellipse cx="340.50" cy="479.0" rx="2.8" ry="3.5" fill="none" stroke="#000" stroke-width="1.05"/>
<rect x="339.85" y="478.3" width="1.3" height="1.4" fill="#000"/>
<text x="344.20" y="477.00" textLength="3.60" lengthAdjust="spacingAndGlyphs" font-family="Liberation Serif" font-size="17.5" font-weight="bold" font-style="normal">)</text>
<text transform="translate(12.30,257.30) rotate(-90)" x="0" y="0" textLength="10.70" lengthAdjust="spacingAndGlyphs" font-family="Liberation Serif" font-size="13" font-weight="normal" font-style="italic" stroke="#000" stroke-width="0.2">V</text>
<text transform="translate(14.40,246.40) rotate(-90)" x="0" y="0" textLength="5.40" lengthAdjust="spacingAndGlyphs" font-family="Liberation Serif" font-size="10" font-weight="normal" font-style="normal" stroke="#000" stroke-width="0.2">r</text>
<path d="M2.9,221.0 C3.7,233.2 12.8,233.2 13.6,221.0" fill="none" stroke="#000" stroke-width="1.15"/>
<text transform="translate(12.30,219.20) rotate(-90)" x="0" y="0" textLength="22.20" lengthAdjust="spacingAndGlyphs" font-family="Liberation Serif" font-size="13.6" font-weight="normal" font-style="normal" stroke="#000" stroke-width="0.22">km</text>
<text transform="translate(12.60,187.20) rotate(-90)" x="0" y="0" textLength="7.80" lengthAdjust="spacingAndGlyphs" font-family="Liberation Serif" font-size="13.3" font-weight="normal" font-style="normal" stroke="#000" stroke-width="0.22">s</text>
<line x1="3.9" y1="169.6" x2="3.9" y2="177.4" stroke="#000" stroke-width="0.85"/>
<text transform="translate(6.90,166.90) rotate(-90)" x="0" y="0" textLength="5.30" lengthAdjust="spacingAndGlyphs" font-family="Liberation Serif" font-size="8.8" font-weight="normal" font-style="normal" stroke="#000" stroke-width="0.22">1</text>
<path d="M3.0,159.0 C4.0,152.5 13.3,152.5 14.3,159.0" fill="none" stroke="#000" stroke-width="1.15"/>
</g>
</svg>
</body></html>
